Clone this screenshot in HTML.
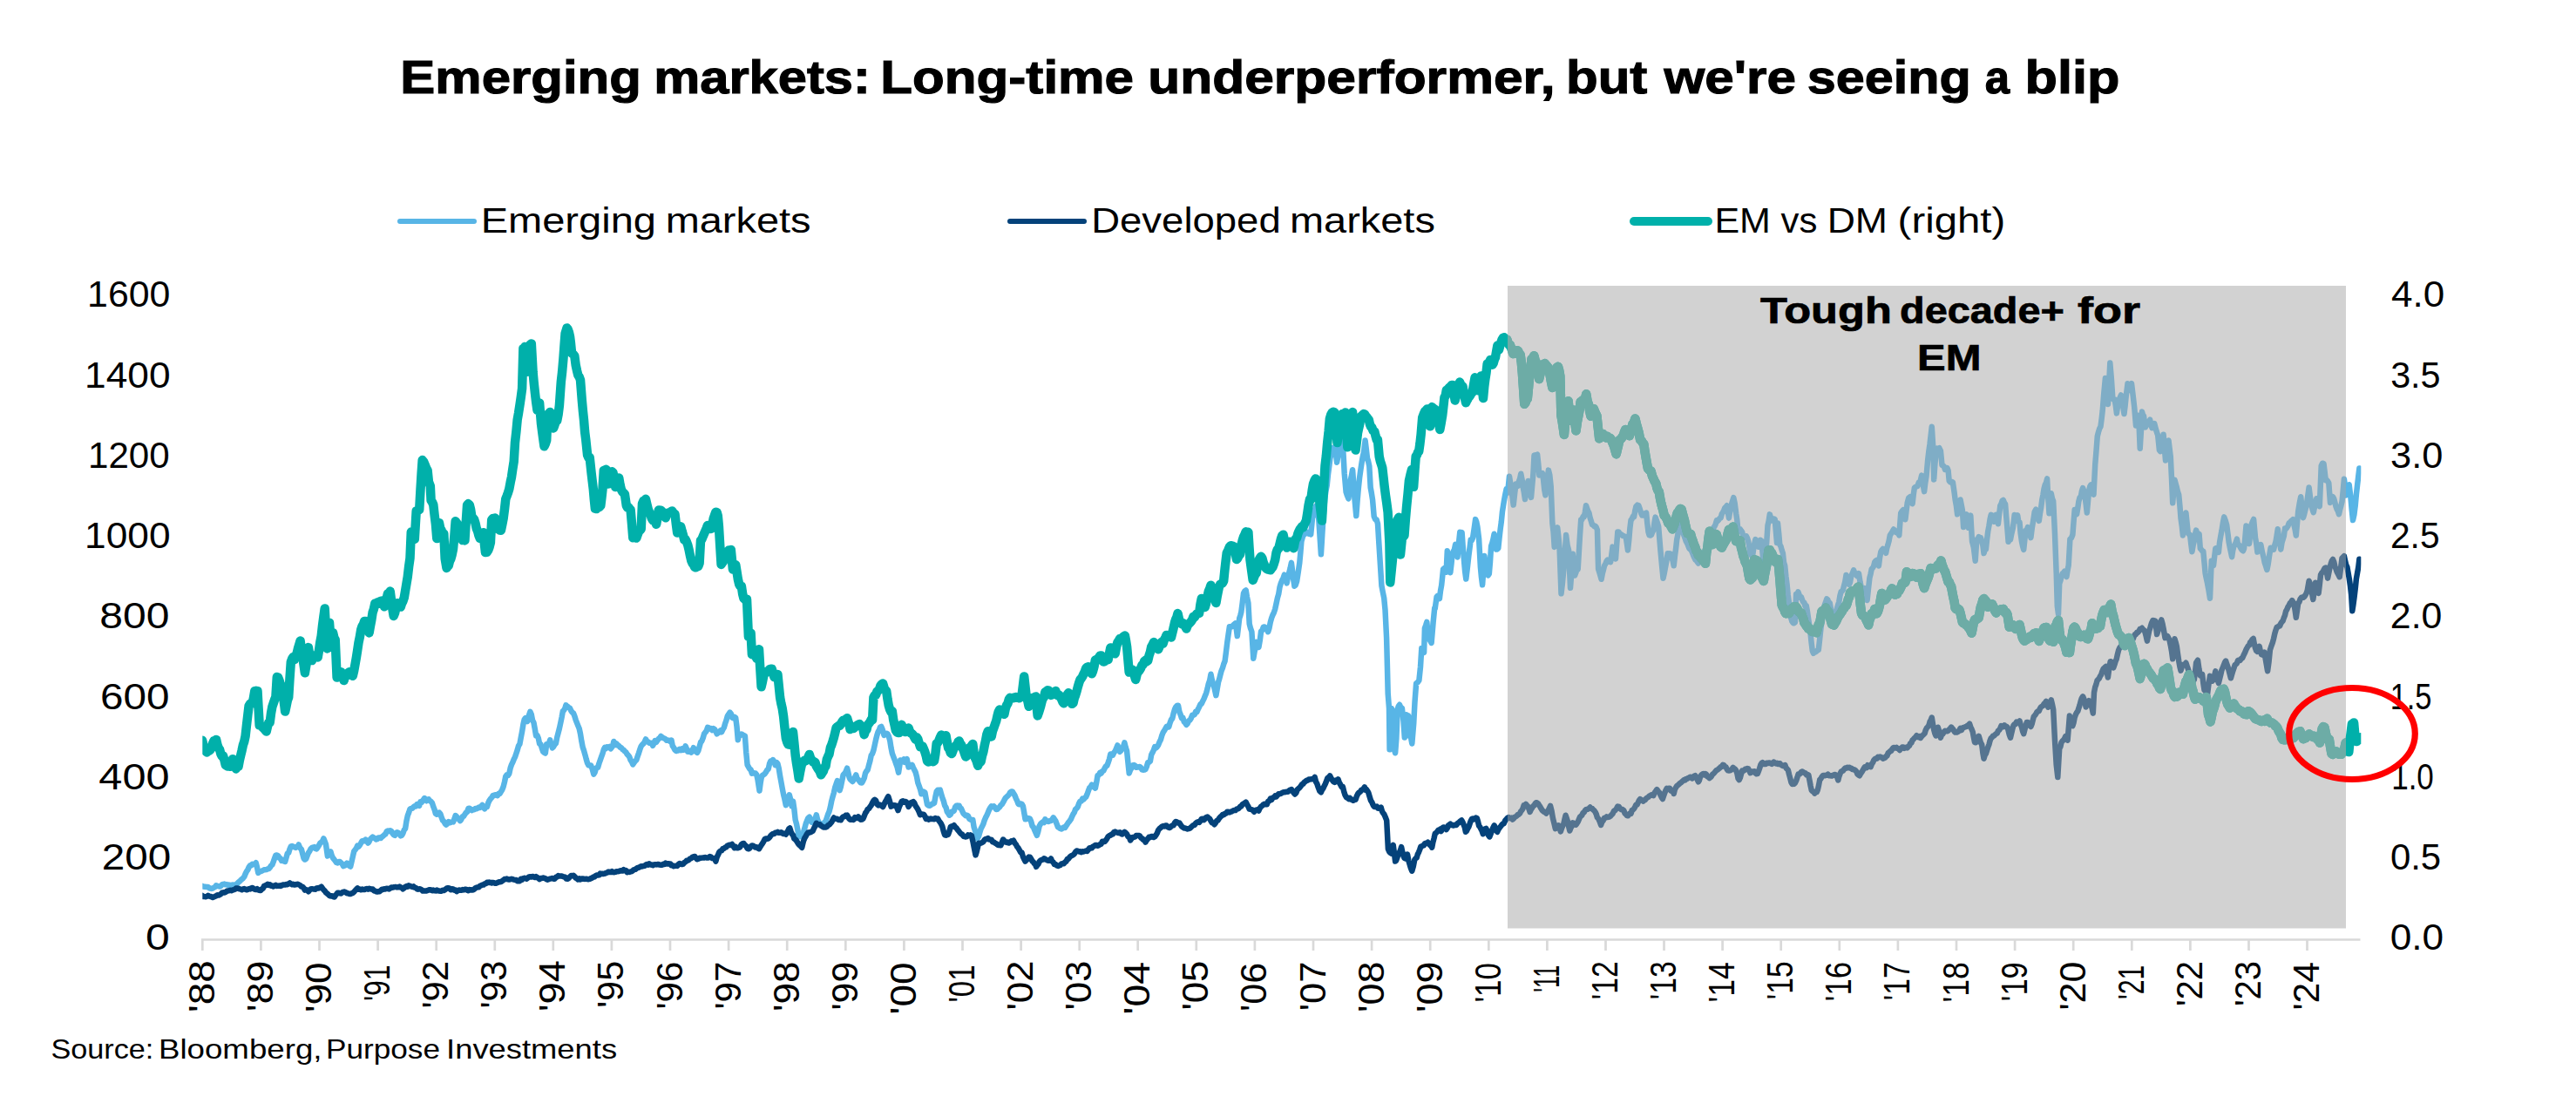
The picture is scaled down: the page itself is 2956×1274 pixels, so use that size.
<!DOCTYPE html>
<html><head><meta charset="utf-8"><title>Emerging markets: Long-time underperformer</title>
<style>
html,body{margin:0;padding:0;background:#fff;}
svg{display:block;font-family:"Liberation Sans",sans-serif;}
text{fill:#000;}
.ser path{fill:none;stroke-linejoin:round;stroke-linecap:round;}
</style></head><body>
<svg width="2956" height="1274" viewBox="0 0 2956 1274">
<rect width="2956" height="1274" fill="#fff"/>

<line x1="459" y1="254" x2="544" y2="254" stroke="#58B5E6" stroke-width="6" stroke-linecap="round"/>
<line x1="1159" y1="254" x2="1244" y2="254" stroke="#04427A" stroke-width="6" stroke-linecap="round"/>
<line x1="1875" y1="254" x2="1960" y2="254" stroke="#00B0AA" stroke-width="10" stroke-linecap="round"/>
<g stroke="#D9D9D9" stroke-width="2.7" fill="none">
<line x1="231.0" y1="1078.5" x2="2708.5" y2="1078.5"/>
<line x1="232.3" y1="1078.5" x2="232.3" y2="1091.0"/><line x1="299.4" y1="1078.5" x2="299.4" y2="1091.0"/><line x1="366.5" y1="1078.5" x2="366.5" y2="1091.0"/><line x1="433.6" y1="1078.5" x2="433.6" y2="1091.0"/><line x1="500.7" y1="1078.5" x2="500.7" y2="1091.0"/><line x1="567.8" y1="1078.5" x2="567.8" y2="1091.0"/><line x1="634.8" y1="1078.5" x2="634.8" y2="1091.0"/><line x1="701.9" y1="1078.5" x2="701.9" y2="1091.0"/><line x1="769.0" y1="1078.5" x2="769.0" y2="1091.0"/><line x1="836.1" y1="1078.5" x2="836.1" y2="1091.0"/><line x1="903.2" y1="1078.5" x2="903.2" y2="1091.0"/><line x1="970.3" y1="1078.5" x2="970.3" y2="1091.0"/><line x1="1037.4" y1="1078.5" x2="1037.4" y2="1091.0"/><line x1="1104.5" y1="1078.5" x2="1104.5" y2="1091.0"/><line x1="1171.6" y1="1078.5" x2="1171.6" y2="1091.0"/><line x1="1238.7" y1="1078.5" x2="1238.7" y2="1091.0"/><line x1="1305.7" y1="1078.5" x2="1305.7" y2="1091.0"/><line x1="1372.8" y1="1078.5" x2="1372.8" y2="1091.0"/><line x1="1439.9" y1="1078.5" x2="1439.9" y2="1091.0"/><line x1="1507.0" y1="1078.5" x2="1507.0" y2="1091.0"/><line x1="1574.1" y1="1078.5" x2="1574.1" y2="1091.0"/><line x1="1641.2" y1="1078.5" x2="1641.2" y2="1091.0"/><line x1="1708.3" y1="1078.5" x2="1708.3" y2="1091.0"/><line x1="1775.4" y1="1078.5" x2="1775.4" y2="1091.0"/><line x1="1842.5" y1="1078.5" x2="1842.5" y2="1091.0"/><line x1="1909.5" y1="1078.5" x2="1909.5" y2="1091.0"/><line x1="1976.6" y1="1078.5" x2="1976.6" y2="1091.0"/><line x1="2043.7" y1="1078.5" x2="2043.7" y2="1091.0"/><line x1="2110.8" y1="1078.5" x2="2110.8" y2="1091.0"/><line x1="2177.9" y1="1078.5" x2="2177.9" y2="1091.0"/><line x1="2245.0" y1="1078.5" x2="2245.0" y2="1091.0"/><line x1="2312.1" y1="1078.5" x2="2312.1" y2="1091.0"/><line x1="2379.2" y1="1078.5" x2="2379.2" y2="1091.0"/><line x1="2446.3" y1="1078.5" x2="2446.3" y2="1091.0"/><line x1="2513.4" y1="1078.5" x2="2513.4" y2="1091.0"/><line x1="2580.5" y1="1078.5" x2="2580.5" y2="1091.0"/><line x1="2647.5" y1="1078.5" x2="2647.5" y2="1091.0"/>
</g>
<defs><clipPath id="bx"><rect x="1730" y="328" width="962" height="737.5"/></clipPath>
<path id="tl" d="M232.1,849.7 L233.4,855.4 L234.7,860.5 L236.1,862.3 L237.4,863.3 L238.8,862.2 L240.1,861.7 L241.4,860.7 L242.8,857.6 L244.1,853.3 L245.4,850.3 L246.8,850.1 L248.1,848.9 L249.5,855.0 L250.8,858.6 L252.1,860.4 L253.5,865.6 L254.8,868.1 L256.2,867.9 L257.5,872.6 L258.8,878.1 L260.2,879.1 L261.5,879.6 L262.9,879.6 L264.2,879.8 L265.5,875.2 L266.9,871.3 L268.2,872.8 L269.6,877.3 L270.9,882.4 L272.2,879.6 L273.6,879.6 L274.9,872.5 L276.3,866.6 L277.6,861.2 L278.9,855.2 L280.3,851.0 L281.6,844.9 L283.0,832.1 L284.3,821.0 L285.6,810.1 L287.0,808.0 L288.3,807.0 L289.6,807.5 L291.0,800.8 L292.3,793.1 L293.9,792.8 L295.5,793.1 L296.6,813.0 L297.7,832.4 L299.0,832.7 L300.4,833.5 L301.7,835.2 L303.0,836.4 L304.4,838.0 L305.7,839.5 L307.1,833.6 L308.4,829.2 L309.7,829.1 L311.1,818.2 L312.4,811.1 L313.8,807.0 L315.1,803.1 L316.4,800.1 L317.8,777.0 L319.1,777.6 L320.5,781.0 L321.6,784.4 L322.8,787.4 L323.9,792.7 L325.5,802.8 L327.2,816.6 L328.5,810.6 L329.8,804.1 L331.2,800.2 L332.5,778.9 L333.8,759.9 L335.2,756.1 L336.5,754.0 L337.9,757.0 L339.2,752.3 L340.5,750.5 L341.9,744.6 L343.2,740.2 L344.6,735.5 L345.9,745.1 L347.2,753.0 L348.6,763.2 L349.9,772.3 L351.3,763.8 L352.6,755.2 L353.9,743.1 L355.3,752.4 L356.6,756.4 L358.0,758.1 L359.3,753.6 L360.6,752.8 L362.0,752.3 L363.3,753.0 L364.7,754.4 L366.0,746.7 L367.3,737.2 L368.7,730.1 L370.0,718.3 L371.4,707.6 L372.7,698.5 L374.0,722.8 L375.4,744.4 L376.7,729.6 L378.0,714.7 L379.1,729.0 L380.2,742.7 L382.1,726.3 L383.4,731.9 L384.7,734.3 L386.6,777.6 L387.8,777.4 L389.0,775.6 L390.2,772.5 L391.4,771.3 L393.1,773.9 L394.7,781.1 L395.9,775.9 L397.1,776.1 L398.3,773.5 L399.5,772.3 L400.8,771.4 L402.2,772.7 L403.5,773.0 L404.8,775.8 L406.2,769.8 L407.5,762.6 L408.9,754.7 L410.2,746.3 L411.5,737.5 L412.9,730.9 L414.2,723.0 L415.6,718.7 L416.9,716.8 L418.2,713.0 L419.6,713.0 L420.9,716.7 L422.3,722.6 L423.6,726.4 L424.9,718.9 L426.3,711.5 L427.6,703.0 L428.9,699.1 L430.3,692.6 L431.6,692.3 L433.0,691.5 L434.3,692.9 L435.6,690.4 L437.0,689.9 L438.3,689.6 L439.7,692.6 L441.0,696.3 L442.3,691.0 L443.7,686.6 L445.0,681.1 L446.4,682.0 L447.7,678.6 L448.8,687.1 L449.8,695.1 L451.7,707.0 L453.1,703.5 L454.4,697.7 L455.7,692.2 L457.1,694.5 L458.4,694.9 L459.8,696.6 L461.1,692.5 L462.4,690.0 L463.8,685.9 L465.1,678.0 L466.5,669.7 L467.8,661.9 L469.1,650.6 L470.5,640.7 L471.8,610.5 L473.1,612.5 L474.5,614.6 L475.8,618.7 L477.7,586.6 L478.9,586.5 L480.0,585.7 L481.2,585.1 L482.5,561.9 L483.6,543.9 L484.7,528.1 L486.3,530.2 L487.9,534.0 L489.2,537.4 L490.6,539.8 L491.9,552.8 L493.8,557.8 L494.6,574.2 L495.9,576.1 L497.3,579.4 L498.6,591.0 L499.9,601.4 L501.3,618.1 L502.6,610.0 L504.0,600.2 L505.3,606.7 L506.6,608.7 L508.0,612.5 L509.3,612.5 L510.7,641.4 L512.5,651.9 L513.7,650.0 L514.8,649.0 L516.0,644.0 L517.3,641.5 L518.7,636.5 L520.0,630.1 L521.4,614.8 L522.7,598.2 L524.0,600.1 L525.4,602.0 L526.7,605.0 L528.1,607.9 L529.4,613.8 L530.7,620.0 L532.1,619.4 L533.4,620.4 L534.8,598.5 L536.1,579.4 L537.4,578.3 L538.8,579.6 L540.1,584.8 L541.5,594.1 L542.8,594.6 L544.1,596.0 L545.5,600.5 L546.8,606.6 L548.2,610.0 L549.5,614.8 L550.8,618.0 L552.2,616.4 L553.5,613.2 L554.9,611.3 L555.9,624.3 L557.0,634.1 L558.6,633.9 L560.2,631.6 L561.5,628.2 L562.9,622.8 L564.2,596.8 L565.6,595.0 L566.9,595.0 L568.2,594.6 L569.6,601.6 L570.9,606.9 L572.3,607.5 L573.6,608.5 L574.9,608.7 L576.3,601.9 L577.6,595.2 L579.0,584.5 L580.3,572.6 L581.6,569.3 L583.0,565.5 L584.3,561.2 L585.7,553.7 L587.0,547.6 L588.3,538.5 L589.7,529.6 L591.0,507.9 L592.4,495.3 L593.7,481.6 L595.0,474.3 L596.4,465.2 L597.7,456.5 L599.1,446.0 L600.4,400.0 L601.5,399.5 L602.5,397.9 L603.7,412.8 L604.9,426.7 L606.0,411.7 L607.1,398.0 L608.4,395.7 L609.8,394.4 L611.6,427.2 L612.7,439.4 L613.8,449.7 L615.1,461.0 L616.5,470.8 L617.8,466.8 L619.1,462.5 L621.0,486.3 L622.1,494.8 L623.2,503.0 L624.5,512.3 L625.8,509.5 L627.2,505.3 L628.5,475.8 L629.9,474.4 L631.2,472.9 L632.5,480.0 L633.9,487.7 L635.2,491.4 L636.6,487.3 L637.9,483.6 L639.2,483.0 L640.6,475.8 L641.9,465.3 L643.8,438.4 L645.1,426.9 L646.5,410.8 L647.5,396.9 L648.6,382.7 L650.5,376.4 L651.6,377.8 L652.8,381.0 L654.0,386.2 L655.0,394.2 L656.1,405.5 L657.7,406.6 L659.3,408.4 L660.7,419.2 L662.0,425.2 L663.3,430.4 L664.7,432.6 L666.0,436.0 L667.9,460.4 L669.0,472.4 L670.0,481.9 L671.1,495.5 L672.2,504.1 L674.1,522.4 L675.4,525.2 L676.7,525.0 L678.6,542.9 L679.7,552.1 L680.8,561.4 L681.8,573.1 L682.9,583.7 L684.5,584.1 L686.1,578.7 L687.7,582.0 L689.3,580.4 L690.4,571.4 L691.5,561.5 L692.8,539.9 L694.1,539.5 L695.5,538.7 L696.8,546.9 L698.2,555.4 L699.5,546.5 L700.8,542.0 L702.2,541.3 L703.5,542.4 L704.9,550.0 L706.2,559.1 L707.5,555.5 L708.9,551.1 L710.2,548.4 L711.6,556.6 L712.9,561.9 L714.2,564.5 L715.6,565.8 L716.9,567.1 L718.8,580.2 L720.0,582.5 L721.2,582.2 L722.4,584.0 L723.6,585.0 L725.0,601.0 L726.3,617.3 L727.6,616.0 L729.0,616.9 L730.3,617.6 L731.7,613.5 L733.0,610.2 L734.3,608.8 L735.7,607.1 L737.0,578.1 L738.3,575.1 L739.7,575.2 L741.0,572.8 L742.4,578.9 L743.7,584.3 L745.0,587.7 L746.4,590.5 L747.7,594.6 L749.1,597.1 L750.4,597.0 L751.7,598.7 L753.1,601.8 L754.4,594.8 L755.8,585.5 L757.1,585.6 L758.4,585.8 L759.8,587.0 L761.1,589.3 L762.5,591.8 L763.8,594.3 L765.1,590.4 L766.5,588.7 L767.8,588.4 L769.0,588.4 L770.1,587.0 L771.3,586.6 L772.9,588.9 L774.5,590.0 L775.9,601.8 L777.2,611.6 L778.5,609.8 L779.9,607.7 L781.2,604.3 L782.6,609.6 L783.9,613.9 L785.2,619.6 L786.6,619.1 L787.9,622.0 L789.2,625.3 L790.6,630.9 L791.9,637.6 L793.3,643.4 L794.6,646.6 L795.9,648.1 L797.3,651.2 L798.6,651.3 L800.0,650.3 L801.3,649.9 L802.6,646.4 L804.0,620.4 L805.3,619.2 L806.7,615.6 L808.0,612.6 L809.3,609.6 L810.7,606.4 L812.0,602.9 L813.4,603.6 L814.7,603.2 L816.0,606.9 L817.4,602.3 L818.7,595.3 L820.1,591.2 L821.4,587.7 L822.7,588.2 L823.8,592.2 L824.9,604.1 L826.2,625.8 L827.6,647.9 L828.7,646.2 L829.8,644.9 L831.0,641.5 L832.1,640.6 L833.4,636.3 L834.8,633.3 L836.1,631.6 L837.5,631.6 L838.8,631.0 L839.9,642.3 L840.9,653.4 L842.6,650.5 L844.2,648.2 L845.5,656.0 L846.8,664.5 L848.2,670.7 L849.5,673.0 L850.9,673.0 L852.2,681.9 L853.5,686.9 L854.7,687.8 L855.9,689.3 L857.0,687.7 L858.9,730.4 L860.2,730.6 L861.6,726.8 L862.9,751.2 L864.5,750.5 L866.1,748.4 L867.2,752.6 L868.3,755.9 L869.6,751.4 L871.0,745.3 L872.3,767.4 L873.6,788.2 L875.0,782.2 L876.3,775.7 L877.6,771.2 L879.0,772.1 L880.3,771.4 L881.7,770.1 L883.0,768.3 L884.3,767.7 L885.7,767.8 L887.0,772.2 L888.4,777.2 L889.7,776.7 L891.0,775.3 L892.4,773.9 L893.7,786.8 L895.1,800.5 L896.4,807.6 L897.7,813.0 L899.1,822.2 L900.4,834.8 L901.8,847.0 L903.1,851.5 L904.4,854.4 L905.8,854.7 L907.2,850.0 L908.6,845.6 L910.0,840.1 L911.3,852.2 L912.7,866.7 L914.0,875.9 L915.4,884.4 L916.7,893.5 L918.0,886.5 L919.4,879.8 L920.7,874.5 L922.1,874.7 L923.4,872.6 L924.7,873.0 L926.1,871.4 L927.4,869.0 L928.8,865.9 L930.1,870.2 L931.4,872.0 L932.8,874.5 L934.1,874.1 L935.4,874.9 L936.8,879.3 L938.1,881.4 L939.5,883.6 L940.8,885.5 L942.1,889.3 L943.5,887.2 L944.8,885.2 L946.2,880.8 L947.5,879.5 L948.8,871.5 L950.2,868.2 L951.5,865.6 L952.9,858.1 L954.2,855.1 L955.5,851.1 L956.9,846.4 L958.2,841.2 L959.6,835.2 L960.9,834.1 L962.2,833.1 L963.6,833.0 L964.9,831.1 L966.3,828.5 L967.6,826.8 L968.7,827.1 L969.9,827.1 L971.0,825.1 L972.1,824.2 L973.3,828.4 L974.5,831.6 L975.6,837.1 L977.0,835.5 L978.3,836.0 L979.6,835.9 L981.0,834.6 L982.3,833.6 L983.7,832.4 L985.0,831.7 L986.3,831.1 L987.7,833.0 L989.0,833.3 L990.4,836.7 L991.7,843.2 L993.0,839.0 L994.4,837.5 L995.7,832.1 L997.1,830.4 L998.4,828.8 L999.7,826.1 L1001.1,826.3 L1002.4,800.7 L1003.8,797.9 L1005.1,797.7 L1006.4,793.6 L1007.8,792.7 L1009.1,790.9 L1010.5,786.8 L1011.8,785.4 L1013.1,784.4 L1014.5,789.1 L1015.8,791.9 L1017.2,793.2 L1018.5,802.4 L1019.8,809.8 L1021.2,814.5 L1022.5,817.1 L1023.8,816.2 L1025.2,826.3 L1026.5,831.8 L1027.9,838.3 L1029.2,840.2 L1030.5,841.0 L1031.9,841.0 L1033.2,838.3 L1034.6,831.8 L1035.9,835.0 L1037.2,838.2 L1038.6,840.1 L1039.9,839.2 L1041.3,838.0 L1042.6,835.6 L1043.9,839.2 L1045.3,841.6 L1046.6,842.2 L1048.0,843.8 L1049.3,846.3 L1050.6,848.6 L1052.0,846.2 L1053.3,848.3 L1054.7,853.0 L1056.0,857.1 L1057.3,857.0 L1058.7,856.5 L1060.0,859.5 L1061.4,863.2 L1062.7,867.4 L1064.0,873.5 L1065.4,874.5 L1066.7,874.2 L1068.0,871.2 L1069.4,873.2 L1070.7,874.2 L1072.1,873.2 L1073.4,865.3 L1074.7,853.4 L1076.1,852.3 L1077.4,850.0 L1078.8,846.4 L1080.1,843.6 L1081.4,846.2 L1082.8,845.6 L1084.1,846.1 L1085.5,844.2 L1086.8,851.9 L1088.1,858.3 L1089.5,860.1 L1090.8,864.1 L1092.2,865.0 L1093.5,861.7 L1094.8,858.1 L1096.2,857.4 L1097.3,855.3 L1098.5,854.9 L1099.6,851.4 L1100.7,850.5 L1101.9,853.4 L1103.1,854.8 L1104.2,857.7 L1105.6,861.0 L1106.9,865.0 L1108.2,868.5 L1109.6,867.5 L1110.9,862.1 L1112.3,858.2 L1113.6,858.9 L1114.9,855.8 L1116.3,853.9 L1117.6,864.0 L1118.9,869.7 L1120.6,873.4 L1122.2,878.8 L1123.3,875.5 L1124.5,874.9 L1125.6,874.3 L1127.0,867.5 L1128.3,863.3 L1129.7,855.9 L1131.0,850.1 L1132.3,843.1 L1133.7,839.3 L1135.0,840.6 L1136.4,841.8 L1137.7,845.4 L1139.0,839.0 L1140.4,835.4 L1141.7,831.6 L1143.1,827.8 L1144.4,822.1 L1145.7,817.1 L1147.1,814.4 L1148.4,816.0 L1149.8,815.1 L1151.1,817.0 L1152.4,819.8 L1153.8,813.2 L1155.1,809.5 L1156.5,807.4 L1157.8,802.5 L1159.1,800.9 L1160.5,801.4 L1161.8,801.1 L1163.1,801.2 L1164.5,800.6 L1165.8,800.0 L1167.2,800.8 L1168.5,800.4 L1169.8,801.2 L1171.2,800.1 L1172.5,798.5 L1173.9,787.1 L1175.2,776.4 L1176.5,788.1 L1177.9,801.1 L1179.2,804.0 L1180.6,810.8 L1181.9,807.6 L1183.2,805.1 L1184.6,800.9 L1185.9,801.8 L1187.3,800.1 L1188.6,799.4 L1189.7,811.8 L1190.7,821.4 L1192.3,816.7 L1194.0,811.2 L1195.3,805.9 L1196.6,801.6 L1198.0,800.1 L1199.3,794.4 L1200.7,793.6 L1202.0,792.2 L1203.3,792.6 L1204.7,794.1 L1206.0,797.9 L1207.3,797.4 L1208.7,795.2 L1210.0,795.2 L1211.4,793.0 L1212.7,797.3 L1214.0,798.5 L1215.4,797.9 L1216.7,799.1 L1218.1,802.4 L1219.4,805.6 L1220.7,807.3 L1222.1,803.5 L1223.4,801.0 L1224.8,797.1 L1226.1,795.3 L1227.4,800.7 L1228.8,804.8 L1230.1,807.8 L1231.5,807.2 L1232.8,801.3 L1234.1,798.0 L1235.5,793.5 L1236.8,788.5 L1238.2,783.7 L1239.5,780.0 L1240.8,778.7 L1242.2,776.3 L1243.5,773.7 L1244.9,770.6 L1246.2,767.0 L1247.5,765.7 L1248.9,765.3 L1250.2,765.6 L1251.5,771.7 L1252.9,773.3 L1254.2,770.0 L1255.6,764.6 L1256.9,757.5 L1258.2,758.3 L1259.6,756.1 L1260.9,755.0 L1262.3,752.4 L1263.6,752.5 L1264.9,757.1 L1266.3,759.5 L1267.6,759.0 L1269.0,756.0 L1270.3,755.8 L1271.6,757.2 L1273.0,749.9 L1274.3,743.5 L1275.7,743.7 L1277.0,745.4 L1278.3,747.4 L1279.7,750.2 L1281.0,742.6 L1282.4,737.2 L1283.7,735.6 L1285.0,733.0 L1286.4,733.1 L1287.7,732.0 L1289.3,730.5 L1290.9,729.6 L1292.0,735.2 L1293.1,742.3 L1294.4,757.1 L1295.7,771.6 L1297.1,768.8 L1298.4,768.4 L1299.8,768.8 L1300.9,772.0 L1302.1,776.2 L1303.2,780.0 L1304.9,772.9 L1306.5,770.7 L1307.8,769.1 L1309.1,766.9 L1310.5,763.3 L1311.8,762.7 L1313.2,758.8 L1314.5,757.8 L1315.8,759.2 L1317.2,758.2 L1318.5,752.7 L1319.9,748.5 L1321.2,742.3 L1322.5,740.1 L1323.9,737.1 L1325.2,739.9 L1326.6,740.1 L1327.9,743.0 L1329.2,745.3 L1330.6,741.9 L1331.9,738.0 L1333.3,736.6 L1334.6,738.8 L1335.9,734.5 L1337.3,731.9 L1338.6,728.9 L1339.9,730.6 L1341.3,730.3 L1342.6,730.3 L1344.0,731.5 L1345.3,726.3 L1346.6,721.0 L1348.0,714.5 L1349.1,711.0 L1350.3,708.5 L1351.5,704.0 L1353.1,711.2 L1354.7,713.8 L1356.0,716.2 L1357.4,715.1 L1358.7,717.4 L1360.0,718.6 L1361.4,721.5 L1362.7,718.2 L1364.1,716.0 L1365.4,714.9 L1366.7,713.5 L1368.1,711.4 L1369.4,707.7 L1370.8,708.5 L1372.1,706.2 L1373.4,704.5 L1374.8,704.2 L1376.1,703.9 L1377.5,693.5 L1378.8,686.9 L1380.1,691.5 L1381.5,694.3 L1382.8,696.9 L1384.1,692.3 L1385.5,684.8 L1386.8,678.8 L1388.2,675.5 L1389.5,671.7 L1390.8,676.3 L1392.2,680.4 L1393.8,686.6 L1395.4,692.0 L1396.6,685.1 L1397.7,679.4 L1398.9,673.6 L1400.2,670.7 L1401.6,670.0 L1402.9,669.3 L1404.2,666.6 L1405.4,654.4 L1406.6,643.8 L1407.7,634.9 L1409.3,631.6 L1410.9,627.7 L1412.3,626.3 L1413.6,626.5 L1415.0,626.9 L1416.3,627.5 L1417.6,634.2 L1419.0,642.0 L1420.3,640.7 L1421.7,637.5 L1423.0,636.2 L1424.3,626.5 L1425.7,620.4 L1427.0,616.2 L1428.3,613.8 L1429.7,610.3 L1431.0,611.1 L1432.4,610.8 L1433.4,626.9 L1434.5,642.6 L1436.1,654.4 L1437.7,665.9 L1439.1,662.5 L1440.4,659.2 L1441.7,657.7 L1443.1,648.7 L1444.4,643.2 L1445.8,640.5 L1447.1,638.8 L1448.4,640.7 L1449.8,645.8 L1451.1,648.9 L1452.5,651.9 L1453.8,653.1 L1455.1,653.6 L1456.5,653.9 L1457.8,654.3 L1459.2,652.4 L1460.5,650.7 L1461.8,647.1 L1463.2,642.7 L1464.5,634.6 L1465.9,630.6 L1467.2,629.7 L1468.5,624.5 L1469.9,618.7 L1471.2,614.8 L1472.6,613.7 L1473.9,620.0 L1475.2,623.9 L1476.6,628.6 L1477.7,626.9 L1478.9,622.6 L1480.0,621.7 L1481.5,623.7 L1483.0,627.6 L1484.5,629.2 L1485.7,622.7 L1486.9,618.1 L1488.1,617.5 L1489.3,612.8 L1490.5,609.8 L1491.7,607.4 L1492.9,606.0 L1494.1,604.2 L1495.3,605.5 L1496.5,602.3 L1497.7,600.1 L1498.9,597.6 L1500.3,588.7 L1501.6,579.8 L1503.0,573.2 L1504.3,573.3 L1505.7,562.9 L1507.0,555.3 L1508.4,551.7 L1509.7,549.4 L1511.1,553.4 L1512.4,551.2 L1513.5,566.3 L1514.6,579.4 L1515.8,588.9 L1516.9,597.6 L1518.7,566.5 L1520.5,534.6 L1521.9,522.9 L1523.2,508.0 L1524.6,495.3 L1525.9,480.5 L1527.3,475.9 L1528.7,473.5 L1529.9,472.8 L1531.0,472.9 L1532.2,474.7 L1533.4,490.6 L1534.5,508.1 L1535.7,499.1 L1536.9,490.6 L1538.1,485.6 L1539.2,481.5 L1540.4,475.0 L1541.6,475.3 L1542.7,475.2 L1543.9,473.4 L1545.1,493.8 L1546.3,513.2 L1547.4,498.6 L1548.6,481.3 L1549.8,478.2 L1550.9,477.3 L1552.1,473.1 L1553.3,487.3 L1554.4,502.9 L1555.6,516.5 L1556.8,507.2 L1558.0,497.0 L1559.1,491.7 L1560.3,486.6 L1561.5,478.3 L1562.6,477.2 L1563.8,476.1 L1565.0,475.1 L1566.2,475.6 L1567.3,478.6 L1568.5,478.8 L1569.7,480.7 L1570.8,482.0 L1572.0,487.1 L1573.2,489.9 L1574.4,490.8 L1575.5,494.2 L1576.7,494.9 L1577.3,495.3 L1578.5,500.3 L1579.7,504.5 L1580.9,504.4 L1582.7,524.0 L1583.9,529.4 L1585.1,533.0 L1586.3,537.0 L1587.5,547.5 L1588.7,558.5 L1589.9,567.8 L1591.3,577.8 L1592.6,587.8 L1594.4,623.5 L1595.3,668.5 L1596.7,654.7 L1598.0,641.8 L1599.4,627.9 L1600.7,614.7 L1602.1,605.2 L1603.4,597.0 L1605.2,593.8 L1607.0,636.6 L1608.8,618.6 L1610.2,615.8 L1611.5,614.7 L1612.9,595.6 L1614.2,580.5 L1615.6,566.5 L1616.9,552.0 L1618.5,544.9 L1620.0,539.0 L1621.1,548.1 L1622.1,558.8 L1623.4,540.7 L1624.7,523.9 L1625.9,522.2 L1627.0,519.2 L1628.2,518.1 L1629.4,509.5 L1630.6,498.9 L1632.2,479.4 L1633.7,475.3 L1635.2,472.1 L1636.4,471.1 L1637.6,469.6 L1638.8,469.5 L1639.9,479.0 L1641.1,489.3 L1642.3,477.5 L1643.4,467.1 L1644.6,468.7 L1645.8,469.3 L1647.0,470.0 L1648.1,473.6 L1649.3,477.7 L1650.8,484.1 L1652.3,492.9 L1653.7,485.5 L1655.2,476.6 L1656.3,467.1 L1657.5,456.1 L1658.7,454.4 L1659.8,447.8 L1661.0,448.1 L1662.2,445.7 L1663.3,444.5 L1664.5,444.2 L1665.7,442.0 L1666.9,442.0 L1668.3,451.3 L1669.7,459.5 L1671.2,452.0 L1672.7,443.4 L1673.9,440.9 L1675.1,438.6 L1676.2,441.6 L1677.4,442.5 L1678.6,443.6 L1679.7,451.5 L1680.9,456.8 L1682.1,462.2 L1683.3,459.6 L1684.4,457.9 L1685.6,454.8 L1686.8,454.6 L1687.9,451.9 L1689.1,450.9 L1690.3,445.9 L1691.5,439.3 L1692.6,433.3 L1693.8,438.4 L1695.0,442.1 L1696.1,448.2 L1697.3,444.6 L1698.5,439.3 L1699.6,431.5 L1700.8,444.5 L1702.0,456.9 L1703.2,444.2 L1704.3,435.4 L1705.5,427.9 L1706.7,417.4 L1707.8,416.9 L1709.0,416.5 L1710.2,412.9 L1711.4,415.8 L1712.5,418.7 L1713.7,416.7 L1714.9,412.5 L1716.0,410.2 L1717.2,403.0 L1718.4,396.5 L1720.0,401.7 L1721.2,397.2 L1722.3,393.4 L1723.5,389.9 L1724.7,387.9 L1725.9,387.2 L1727.0,390.7 L1728.2,389.8 L1729.4,389.9 L1730.5,393.6 L1731.7,396.1 L1732.9,396.0 L1734.1,399.5 L1735.2,402.5 L1736.4,406.1 L1737.6,405.7 L1738.7,405.3 L1739.9,404.8 L1741.1,402.3 L1742.2,403.0 L1743.4,406.3 L1744.6,407.0 L1745.8,415.9 L1746.9,428.2 L1748.1,445.8 L1749.3,463.7 L1750.4,462.3 L1751.6,459.2 L1752.8,457.6 L1754.0,445.1 L1755.1,432.1 L1756.3,423.8 L1757.5,412.1 L1758.9,413.3 L1760.3,408.2 L1761.8,414.3 L1763.3,416.8 L1764.7,426.6 L1766.1,435.0 L1767.7,428.1 L1769.2,421.3 L1770.4,419.5 L1771.5,417.9 L1772.7,417.2 L1773.9,418.6 L1775.0,419.9 L1776.2,421.3 L1777.4,423.0 L1778.7,430.8 L1780.0,438.1 L1781.4,444.9 L1782.9,437.2 L1784.4,428.2 L1785.6,426.1 L1786.7,421.6 L1787.9,420.8 L1789.1,425.0 L1790.3,431.6 L1791.4,476.6 L1792.6,483.2 L1793.8,491.3 L1794.9,498.9 L1796.1,484.2 L1797.3,464.8 L1798.5,463.9 L1799.6,460.3 L1800.8,473.0 L1802.0,482.7 L1803.1,480.7 L1804.3,476.0 L1805.5,470.7 L1807.0,482.6 L1808.5,494.3 L1809.9,484.3 L1811.3,477.3 L1812.5,470.5 L1813.7,461.2 L1814.8,461.5 L1816.0,459.4 L1817.2,458.9 L1818.7,459.3 L1820.2,452.3 L1821.6,460.7 L1823.0,464.2 L1824.2,471.9 L1825.4,477.5 L1826.6,475.3 L1827.7,471.5 L1828.9,469.2 L1830.1,472.5 L1831.2,474.8 L1832.4,477.3 L1833.8,490.8 L1835.2,503.3 L1836.6,500.6 L1838.0,498.1 L1839.4,497.9 L1840.6,500.3 L1841.8,500.5 L1843.0,502.4 L1844.1,500.7 L1845.3,501.9 L1846.5,502.4 L1847.6,502.7 L1848.8,504.3 L1850.0,507.2 L1851.1,509.8 L1852.3,512.8 L1853.5,517.2 L1854.7,521.2 L1855.8,516.3 L1857.0,511.5 L1858.2,505.2 L1859.3,504.6 L1860.5,503.4 L1861.7,501.3 L1862.9,500.0 L1864.0,495.8 L1865.2,493.1 L1866.4,493.7 L1867.5,496.0 L1868.7,497.4 L1869.9,500.2 L1871.1,495.6 L1872.2,491.8 L1873.4,486.9 L1874.9,485.1 L1876.4,480.4 L1877.8,486.5 L1879.3,491.7 L1880.7,496.8 L1882.1,504.7 L1883.5,505.7 L1884.9,508.1 L1886.3,509.7 L1887.4,517.4 L1888.6,524.7 L1889.8,531.5 L1891.0,537.9 L1892.1,538.9 L1893.3,540.2 L1894.5,540.6 L1896.0,546.5 L1897.5,549.6 L1898.9,552.8 L1900.3,555.1 L1901.5,560.2 L1902.7,563.2 L1903.8,564.5 L1905.0,571.9 L1906.2,577.7 L1907.4,582.3 L1908.5,586.1 L1909.7,591.5 L1910.9,592.9 L1912.0,594.5 L1913.2,597.0 L1914.4,600.5 L1915.6,601.2 L1916.7,602.9 L1917.9,604.8 L1919.1,607.2 L1920.2,604.4 L1921.4,601.5 L1922.6,596.8 L1923.7,592.7 L1924.9,588.5 L1926.1,587.5 L1927.3,585.2 L1928.4,583.9 L1929.6,584.8 L1930.8,589.5 L1931.9,593.5 L1933.1,597.7 L1934.3,603.8 L1935.5,608.6 L1936.6,612.2 L1937.8,612.3 L1939.0,613.8 L1940.1,613.0 L1941.3,617.6 L1942.5,620.5 L1943.8,624.7 L1945.2,627.7 L1946.5,632.5 L1947.7,633.3 L1948.8,637.1 L1950.0,637.9 L1951.2,639.4 L1952.3,640.9 L1953.5,642.0 L1954.7,643.9 L1955.9,645.0 L1957.0,646.8 L1958.2,634.5 L1959.4,628.2 L1960.5,617.9 L1961.7,609.8 L1962.9,614.4 L1964.1,619.2 L1965.2,625.1 L1966.4,621.0 L1967.6,615.8 L1968.7,612.9 L1969.9,613.7 L1971.1,618.5 L1972.2,620.4 L1973.4,624.8 L1974.6,627.6 L1975.8,628.5 L1976.9,626.2 L1978.1,624.1 L1979.3,621.9 L1980.4,620.4 L1981.6,617.3 L1982.8,612.0 L1984.0,607.8 L1985.1,610.1 L1986.3,608.6 L1987.5,606.9 L1988.6,604.6 L1989.8,611.3 L1991.0,616.8 L1992.2,621.3 L1993.3,620.2 L1994.5,621.7 L1995.7,622.1 L1996.8,620.4 L1998.0,628.5 L1999.2,632.7 L2000.4,638.1 L2001.5,640.7 L2002.7,645.1 L2003.9,647.3 L2005.0,649.9 L2006.2,657.4 L2007.4,663.7 L2008.5,665.5 L2009.7,664.1 L2010.9,663.4 L2012.1,652.3 L2013.2,642.3 L2014.4,642.7 L2015.6,643.1 L2016.7,644.1 L2017.9,652.1 L2019.1,658.2 L2020.3,660.3 L2021.4,662.4 L2022.6,664.2 L2023.8,667.0 L2024.9,659.9 L2026.1,654.2 L2027.3,648.0 L2028.5,639.0 L2029.6,631.5 L2030.8,631.2 L2032.0,634.9 L2033.1,634.8 L2034.3,637.6 L2035.5,640.6 L2036.7,644.5 L2037.8,643.9 L2038.9,641.7 L2040.0,642.0 L2041.2,651.4 L2042.3,663.7 L2043.5,679.3 L2044.7,694.4 L2045.9,697.1 L2047.0,698.3 L2048.2,702.3 L2049.4,704.2 L2050.5,703.0 L2051.7,702.7 L2052.9,704.1 L2054.1,701.9 L2055.2,700.0 L2056.4,698.3 L2057.6,698.3 L2058.7,696.3 L2059.9,696.4 L2061.1,696.5 L2062.2,697.9 L2063.4,701.2 L2064.6,702.5 L2065.8,703.6 L2066.9,703.5 L2068.1,707.4 L2069.3,710.1 L2070.4,714.8 L2071.6,716.0 L2072.8,718.6 L2074.0,718.8 L2075.1,721.6 L2076.3,721.2 L2077.5,722.0 L2078.6,724.3 L2079.8,724.8 L2081.0,722.9 L2082.2,725.3 L2083.3,724.3 L2084.5,726.2 L2085.7,721.5 L2086.8,716.9 L2088.0,715.9 L2089.2,709.4 L2090.4,702.1 L2091.5,700.9 L2092.7,702.1 L2093.9,700.9 L2095.0,697.6 L2096.2,701.5 L2097.4,701.1 L2098.5,702.7 L2099.7,707.5 L2100.9,712.3 L2102.1,716.5 L2103.2,717.0 L2104.4,717.5 L2105.6,715.2 L2106.7,713.9 L2107.9,711.3 L2109.1,708.4 L2110.3,706.7 L2111.4,705.4 L2112.6,703.4 L2113.8,701.6 L2114.9,699.0 L2116.1,698.2 L2117.3,695.6 L2118.5,695.3 L2119.6,692.5 L2120.8,688.0 L2122.0,685.3 L2123.1,680.2 L2124.3,679.4 L2125.5,678.2 L2126.7,678.3 L2127.8,678.2 L2129.0,679.0 L2130.2,677.1 L2131.3,674.7 L2132.5,673.5 L2133.7,683.2 L2134.8,693.7 L2136.0,703.7 L2137.2,706.2 L2138.4,706.5 L2139.5,707.3 L2140.7,709.7 L2141.9,712.4 L2143.0,714.3 L2144.2,717.3 L2145.4,711.4 L2146.6,708.6 L2147.7,704.2 L2148.9,705.6 L2150.1,702.9 L2151.2,699.1 L2152.4,702.4 L2153.6,704.2 L2154.8,702.0 L2155.9,698.7 L2157.1,693.7 L2158.3,686.3 L2159.4,680.9 L2160.6,685.5 L2161.8,684.7 L2163.0,688.6 L2164.1,687.3 L2165.3,685.5 L2166.5,683.5 L2167.6,681.6 L2168.8,681.2 L2170.0,677.2 L2171.1,675.5 L2172.3,677.0 L2173.5,679.8 L2174.7,682.6 L2175.8,680.8 L2177.0,681.7 L2178.2,677.2 L2179.3,678.1 L2180.5,675.8 L2181.7,673.2 L2182.9,669.4 L2184.0,669.4 L2185.2,669.3 L2186.4,668.3 L2188.0,656.2 L2189.4,659.0 L2190.8,659.9 L2192.2,662.0 L2193.4,660.3 L2194.6,658.0 L2195.7,658.3 L2196.9,659.5 L2198.1,659.9 L2199.3,662.6 L2200.4,659.1 L2201.6,659.7 L2202.8,658.9 L2203.9,658.2 L2205.3,664.4 L2206.7,670.7 L2208.1,675.0 L2209.5,670.7 L2210.8,667.3 L2212.1,664.4 L2213.3,661.0 L2214.5,656.3 L2215.6,652.1 L2216.8,654.1 L2218.0,653.0 L2219.2,652.9 L2220.3,652.4 L2221.5,652.5 L2222.7,650.1 L2223.8,648.5 L2225.0,648.5 L2226.2,646.2 L2227.4,643.5 L2228.5,648.0 L2229.7,650.9 L2230.9,654.4 L2232.0,655.9 L2233.2,659.8 L2234.4,664.0 L2235.6,667.9 L2236.7,668.0 L2237.9,671.1 L2239.1,673.2 L2240.2,679.3 L2241.4,685.5 L2242.6,690.5 L2243.7,697.9 L2244.9,699.3 L2246.1,699.3 L2247.3,698.9 L2248.4,700.0 L2249.6,703.9 L2250.8,709.1 L2251.9,714.0 L2253.1,715.4 L2254.3,715.6 L2255.5,716.5 L2256.6,717.8 L2257.8,718.8 L2259.0,720.5 L2260.1,721.7 L2261.3,723.9 L2262.5,726.7 L2263.7,720.7 L2264.8,714.5 L2266.0,711.4 L2267.2,710.6 L2268.3,710.9 L2269.5,709.8 L2270.7,709.2 L2271.9,702.0 L2273.0,696.2 L2274.2,693.3 L2275.4,688.6 L2276.5,687.1 L2277.7,688.4 L2278.9,689.6 L2280.0,692.0 L2281.2,696.7 L2282.4,694.8 L2283.6,696.1 L2284.7,694.5 L2285.9,693.3 L2287.1,695.5 L2288.2,698.1 L2289.4,701.4 L2290.6,703.4 L2291.8,701.5 L2292.9,701.0 L2294.1,700.3 L2295.3,700.1 L2296.4,699.3 L2297.6,699.7 L2298.8,698.9 L2300.0,702.2 L2301.1,703.6 L2302.3,702.9 L2303.5,705.3 L2304.6,712.4 L2305.8,719.8 L2307.0,718.5 L2308.1,716.9 L2309.3,716.9 L2310.5,717.8 L2311.7,720.4 L2312.8,721.8 L2314.0,721.2 L2315.2,720.1 L2316.3,718.3 L2317.5,716.9 L2318.7,722.3 L2319.9,728.1 L2321.0,732.3 L2322.2,734.6 L2323.4,735.6 L2324.5,733.4 L2325.7,733.9 L2326.9,731.8 L2328.1,732.4 L2329.2,730.7 L2330.4,731.9 L2331.6,730.1 L2332.7,728.9 L2333.9,727.3 L2335.1,728.2 L2336.3,726.3 L2337.4,729.5 L2338.6,732.4 L2339.8,735.9 L2340.9,732.7 L2342.1,729.4 L2343.3,725.4 L2344.4,723.6 L2345.6,720.5 L2346.8,720.2 L2348.0,720.1 L2349.1,725.3 L2350.3,731.4 L2351.5,734.4 L2352.6,735.6 L2353.8,735.8 L2355.0,735.5 L2356.2,736.8 L2357.3,728.0 L2358.5,718.7 L2359.7,717.0 L2360.8,713.6 L2362.0,712.0 L2363.2,723.6 L2364.4,732.7 L2365.5,734.8 L2366.7,733.9 L2367.9,736.2 L2369.0,740.1 L2370.2,743.1 L2371.4,748.6 L2372.6,748.5 L2373.7,748.1 L2374.9,749.1 L2376.1,740.1 L2377.2,733.3 L2378.4,724.9 L2379.6,720.4 L2380.7,719.6 L2381.9,721.4 L2383.1,725.3 L2384.3,726.0 L2385.4,729.1 L2386.6,730.6 L2387.8,731.0 L2388.9,730.1 L2390.1,729.6 L2391.3,728.9 L2392.5,730.6 L2393.6,731.4 L2394.8,732.9 L2396.0,733.3 L2397.1,730.1 L2398.3,725.2 L2399.5,722.5 L2400.7,715.2 L2401.8,717.0 L2403.0,718.2 L2404.2,719.6 L2405.3,721.6 L2406.5,720.1 L2407.7,720.9 L2408.9,718.8 L2410.0,718.6 L2411.2,711.4 L2412.4,705.9 L2413.5,702.6 L2414.7,700.0 L2415.9,700.0 L2417.0,701.9 L2418.2,703.1 L2419.5,699.6 L2420.9,696.4 L2422.2,693.6 L2423.7,702.3 L2425.2,707.0 L2426.4,712.6 L2427.6,717.5 L2428.8,721.5 L2429.9,725.4 L2431.1,728.4 L2432.3,728.9 L2433.4,730.2 L2434.6,731.1 L2435.8,734.0 L2437.0,739.3 L2438.1,741.0 L2439.3,739.6 L2440.5,737.6 L2441.6,735.4 L2442.8,732.0 L2444.0,734.6 L2445.2,738.1 L2446.3,742.0 L2447.5,745.6 L2448.7,750.4 L2449.8,755.4 L2451.0,761.5 L2452.2,763.8 L2453.3,767.6 L2454.5,773.2 L2455.7,779.0 L2456.9,774.2 L2458.0,768.4 L2459.2,762.5 L2460.4,761.8 L2461.5,762.9 L2462.7,766.1 L2463.9,767.8 L2465.1,770.3 L2466.2,771.5 L2467.4,773.1 L2468.6,774.7 L2469.7,776.7 L2470.9,778.6 L2472.1,779.2 L2473.3,780.9 L2474.4,782.4 L2475.6,785.4 L2476.8,786.0 L2477.9,789.5 L2479.1,791.0 L2480.3,783.6 L2481.5,776.7 L2482.6,769.7 L2483.8,768.9 L2485.0,768.8 L2486.1,767.5 L2487.3,766.5 L2488.5,773.4 L2489.6,780.6 L2490.8,788.8 L2492.0,792.6 L2493.2,793.2 L2494.3,797.6 L2495.5,799.9 L2496.7,798.9 L2497.8,799.7 L2499.0,798.9 L2500.2,794.8 L2501.4,795.9 L2502.5,794.5 L2503.7,796.0 L2504.9,796.8 L2506.0,790.9 L2507.2,786.4 L2508.4,781.7 L2509.6,780.7 L2510.7,777.3 L2511.9,774.2 L2513.1,778.4 L2514.2,782.8 L2515.4,790.1 L2516.6,793.3 L2517.8,798.9 L2518.9,802.6 L2520.1,802.0 L2521.3,799.8 L2522.4,801.2 L2523.6,800.3 L2524.8,801.7 L2525.9,801.7 L2527.1,801.9 L2528.3,804.5 L2529.5,801.7 L2530.6,801.0 L2531.8,800.1 L2533.0,810.3 L2534.1,820.4 L2535.3,823.6 L2536.5,828.4 L2537.7,823.1 L2538.8,817.2 L2540.0,814.1 L2541.2,810.3 L2542.3,805.7 L2543.5,802.7 L2544.7,800.4 L2545.9,798.5 L2547.0,795.6 L2548.2,792.8 L2549.4,792.4 L2550.5,791.2 L2551.7,790.8 L2552.9,793.4 L2554.1,799.5 L2555.2,804.9 L2556.4,808.6 L2557.6,810.3 L2558.7,812.5 L2559.9,810.9 L2561.1,811.1 L2562.2,810.4 L2563.4,807.5 L2564.6,810.4 L2565.8,811.4 L2566.9,813.3 L2568.1,814.0 L2569.3,814.5 L2570.4,816.3 L2571.6,816.7 L2572.8,816.6 L2574.0,817.6 L2575.1,819.5 L2576.3,820.0 L2577.5,819.5 L2578.6,820.2 L2580.0,816.2 L2581.4,816.9 L2582.7,818.0 L2584.1,819.7 L2585.4,821.4 L2586.8,823.3 L2588.1,825.0 L2589.5,825.6 L2590.8,826.0 L2592.2,826.5 L2593.5,827.0 L2594.9,828.1 L2596.2,827.9 L2597.6,826.5 L2598.9,827.9 L2600.3,825.9 L2601.6,824.8 L2603.0,827.7 L2604.3,828.5 L2605.7,829.7 L2607.0,829.5 L2608.4,830.6 L2609.7,831.2 L2611.1,833.6 L2612.4,833.9 L2613.6,836.1 L2614.8,839.0 L2616.0,841.0 L2617.2,842.9 L2618.4,847.0 L2619.6,848.9 L2621.1,849.3 L2622.6,849.2 L2624.1,847.4 L2625.4,849.1 L2626.7,848.6 L2627.9,848.2 L2629.2,848.3 L2630.5,847.2 L2631.8,847.1 L2633.2,844.7 L2634.5,843.1 L2635.9,841.4 L2637.1,840.2 L2638.3,839.6 L2639.5,839.4 L2640.7,842.9 L2641.9,845.4 L2643.1,848.2 L2644.4,846.9 L2645.8,847.1 L2647.1,845.7 L2648.5,843.9 L2649.8,842.5 L2651.2,843.7 L2652.5,844.8 L2653.9,845.8 L2655.2,844.8 L2656.6,846.0 L2657.9,846.5 L2659.3,848.8 L2660.6,849.5 L2662.0,852.5 L2663.3,843.7 L2664.7,836.4 L2666.0,834.2 L2667.4,834.7 L2668.7,840.8 L2670.1,847.0 L2671.4,849.5 L2672.8,848.5 L2674.1,857.1 L2675.5,865.0 L2677.0,865.9 L2678.5,863.1 L2680.0,862.5 L2681.2,862.6 L2682.4,864.5 L2683.6,865.5 L2685.1,864.4 L2686.6,865.8 L2688.1,863.2 L2689.3,862.8 L2690.5,858.2 L2691.7,852.6 L2692.9,859.1 L2694.1,861.4 L2695.3,863.1 L2697.1,845.6 L2698.9,831.0 L2700.0,831.9 L2701.1,829.4 L2702.5,845.4 L2704.3,851.1 L2706.1,847.4 L2707.5,849.2 L2708.8,846.3" fill="none" stroke-width="10.5" stroke-linejoin="round" stroke-linecap="round"/></defs>
<clipPath id="pa"><rect x="232.3" y="300" width="2477" height="790"/></clipPath>
<g class="ser" clip-path="url(#pa)">
<path d="M232.1,1016.9 L233.4,1017.5 L234.7,1017.7 L236.1,1017.8 L237.4,1018.1 L238.8,1018.1 L240.1,1019.1 L241.4,1019.6 L242.8,1020.0 L244.1,1019.6 L245.4,1018.8 L246.8,1018.0 L248.1,1016.3 L249.5,1016.8 L250.8,1017.2 L252.1,1017.5 L253.5,1016.8 L254.8,1015.4 L256.2,1014.9 L257.5,1014.6 L258.8,1015.3 L260.2,1015.1 L261.5,1015.7 L262.9,1015.6 L264.2,1016.3 L265.5,1016.0 L266.9,1015.4 L268.2,1016.0 L269.6,1015.4 L270.9,1015.5 L272.2,1014.0 L273.6,1012.6 L274.9,1011.6 L276.3,1010.2 L277.6,1009.2 L278.9,1008.0 L280.3,1006.3 L281.6,1003.0 L283.0,1000.1 L284.3,998.3 L285.6,995.4 L287.0,993.3 L288.3,993.2 L289.6,991.8 L291.0,992.1 L292.3,991.9 L293.7,990.3 L295.0,995.4 L296.3,1001.9 L297.7,1000.3 L299.0,1000.2 L300.4,999.7 L301.7,999.0 L303.0,998.3 L304.4,998.2 L305.7,998.1 L307.1,997.4 L308.4,997.1 L309.7,995.8 L311.1,993.5 L312.4,992.5 L313.8,988.9 L315.1,985.2 L316.4,981.7 L317.8,981.4 L319.1,982.2 L320.5,984.7 L321.8,985.1 L323.1,987.9 L324.5,987.1 L325.8,988.4 L327.2,988.9 L328.5,984.4 L329.8,979.7 L331.2,978.7 L332.5,974.6 L333.8,971.5 L335.2,970.9 L336.5,971.7 L337.9,972.3 L339.2,972.9 L340.4,971.9 L341.5,971.8 L342.7,969.5 L344.3,973.3 L345.9,974.9 L347.2,979.9 L348.6,985.3 L349.9,986.5 L351.3,985.5 L352.6,982.1 L353.9,978.9 L355.3,976.9 L356.6,974.2 L358.0,973.0 L359.3,972.7 L360.6,972.1 L362.0,974.0 L363.3,974.4 L364.7,972.4 L366.0,970.3 L367.3,967.8 L368.7,966.6 L370.0,965.6 L371.4,962.4 L372.7,965.7 L374.0,969.2 L375.9,982.5 L377.1,980.4 L378.2,979.3 L379.4,977.5 L380.7,981.9 L382.1,984.8 L383.4,986.4 L384.7,988.1 L386.1,990.0 L387.4,990.4 L388.8,989.1 L390.1,989.1 L391.4,990.3 L392.8,991.7 L394.1,994.1 L395.5,993.5 L396.8,992.6 L398.1,990.6 L399.5,992.5 L400.8,993.7 L402.2,994.6 L403.5,989.1 L404.8,983.4 L406.2,977.2 L407.5,975.4 L408.9,973.6 L410.2,970.7 L411.5,971.6 L412.9,969.9 L414.2,967.7 L415.6,965.2 L416.9,965.1 L418.2,965.3 L419.6,963.7 L420.9,965.3 L422.3,967.5 L423.6,966.0 L424.9,963.2 L426.3,961.8 L427.6,960.6 L428.9,961.6 L430.3,962.2 L431.6,963.5 L433.0,963.0 L434.3,961.5 L435.6,961.5 L437.0,962.0 L438.3,960.4 L439.7,959.5 L441.0,958.2 L442.3,957.5 L443.7,954.3 L445.0,953.5 L446.4,954.0 L447.7,953.3 L449.0,953.9 L450.4,956.4 L451.7,958.2 L453.1,958.9 L454.4,956.1 L455.7,955.2 L457.1,955.7 L458.4,957.4 L459.8,959.4 L461.1,958.8 L462.4,956.4 L463.8,952.5 L465.1,951.1 L466.5,942.1 L467.8,936.1 L469.1,932.8 L470.5,928.6 L471.8,927.9 L473.1,927.8 L474.5,926.3 L475.8,925.2 L477.2,925.4 L478.5,923.0 L479.8,923.0 L481.2,924.7 L482.5,920.2 L483.7,921.1 L484.8,919.2 L485.9,918.0 L487.1,916.1 L488.2,918.1 L489.4,919.3 L490.6,917.9 L491.9,917.3 L493.2,919.1 L494.6,920.0 L495.9,921.6 L497.3,925.9 L498.6,929.2 L499.9,933.8 L501.3,934.7 L502.6,933.1 L504.0,932.6 L505.3,934.1 L506.6,937.9 L508.0,941.6 L509.3,942.7 L510.7,945.3 L512.0,946.5 L513.3,945.4 L514.7,943.1 L516.0,944.2 L517.3,944.0 L518.7,943.2 L520.0,943.4 L521.4,940.0 L522.7,936.1 L524.0,937.2 L525.4,939.6 L526.7,940.4 L528.1,942.1 L529.4,940.3 L530.7,937.2 L532.1,936.9 L533.4,934.7 L534.8,932.6 L536.1,931.9 L537.4,928.0 L538.8,927.7 L540.1,928.8 L541.5,930.1 L542.8,929.2 L544.1,929.2 L545.5,928.0 L546.8,928.2 L548.2,927.6 L549.5,926.6 L550.8,926.9 L552.2,925.5 L553.5,924.0 L554.9,926.9 L556.2,928.4 L557.5,925.7 L558.9,926.0 L560.2,921.7 L561.5,918.8 L562.9,916.8 L564.2,915.5 L565.6,913.0 L566.9,913.2 L568.2,912.2 L569.6,912.5 L570.9,913.2 L572.3,910.7 L573.6,910.9 L574.9,908.7 L576.3,906.3 L577.6,903.0 L579.0,897.5 L580.3,891.0 L581.6,889.4 L583.0,889.9 L584.3,887.9 L585.7,881.3 L587.0,877.6 L588.3,875.0 L589.7,871.5 L591.0,868.9 L592.4,864.8 L593.7,860.9 L595.0,856.1 L596.4,854.0 L597.7,846.8 L599.1,839.7 L600.4,831.5 L601.7,825.8 L602.9,824.1 L604.1,825.6 L605.2,828.0 L606.8,821.6 L608.4,816.9 L609.8,820.1 L611.1,826.8 L612.4,829.2 L613.8,836.7 L615.1,844.4 L616.5,844.1 L617.8,847.2 L619.1,853.6 L620.5,854.4 L621.8,858.6 L623.2,862.7 L624.5,863.9 L625.8,864.5 L627.2,854.3 L628.5,854.5 L629.9,853.2 L631.2,849.4 L632.5,854.2 L633.9,858.4 L635.2,857.0 L636.6,854.5 L637.9,853.2 L639.2,846.5 L640.6,841.2 L641.9,836.1 L643.3,829.6 L644.6,823.3 L645.9,816.2 L647.1,815.2 L648.3,813.1 L649.4,809.3 L650.6,810.6 L651.7,811.2 L652.8,812.3 L654.0,812.8 L655.3,815.8 L656.6,817.5 L658.0,818.6 L659.3,821.7 L660.7,826.3 L662.0,829.7 L663.3,832.9 L664.7,836.2 L666.0,842.2 L667.4,850.9 L668.7,857.7 L670.0,861.4 L671.4,866.3 L672.7,871.3 L674.1,876.0 L675.4,878.3 L676.7,878.6 L678.1,878.5 L679.7,882.6 L681.3,888.7 L682.5,886.7 L683.6,883.0 L684.8,880.9 L686.1,880.8 L687.5,876.0 L688.8,872.3 L690.1,868.7 L691.5,864.8 L692.8,860.3 L694.1,857.8 L695.5,859.0 L696.8,857.2 L698.2,857.7 L699.5,857.0 L700.8,859.3 L702.0,857.7 L703.2,856.1 L704.3,851.0 L705.5,853.2 L706.6,854.8 L707.7,853.7 L708.9,855.7 L710.2,856.0 L711.6,857.8 L712.9,858.1 L714.2,859.9 L715.6,860.8 L716.9,862.2 L718.3,863.3 L719.6,865.6 L720.9,866.9 L722.3,868.8 L723.6,872.4 L725.0,874.4 L726.3,877.4 L727.6,875.3 L729.0,873.5 L730.3,872.2 L731.7,868.0 L733.0,864.3 L734.3,860.2 L735.7,856.4 L737.0,854.7 L738.3,853.6 L739.7,851.5 L741.0,848.4 L742.4,850.9 L743.7,851.5 L745.0,852.7 L746.4,852.7 L747.7,852.9 L749.1,855.8 L750.4,853.3 L751.7,850.0 L753.1,851.7 L754.4,849.7 L755.8,847.9 L757.1,847.0 L758.4,844.9 L759.8,846.1 L761.1,847.1 L762.5,847.5 L763.8,848.6 L765.1,849.8 L766.5,849.5 L767.8,849.9 L769.2,851.3 L770.5,849.6 L771.8,856.2 L773.2,858.2 L774.5,860.8 L775.9,861.9 L777.2,860.8 L778.5,861.4 L779.9,859.9 L781.2,861.0 L782.6,859.4 L783.9,860.9 L785.2,860.6 L786.6,856.4 L787.9,859.3 L789.2,862.8 L790.6,862.7 L791.9,861.9 L793.3,863.6 L794.6,861.9 L795.9,858.2 L797.3,860.8 L798.6,862.7 L800.0,863.9 L801.3,861.7 L802.6,857.2 L804.0,852.0 L805.3,850.5 L806.7,847.1 L808.0,842.3 L809.3,840.6 L810.7,838.9 L812.0,834.9 L813.4,835.4 L814.7,836.5 L816.0,836.0 L817.4,838.1 L818.7,836.1 L820.1,837.1 L821.4,839.5 L822.7,842.3 L824.1,841.1 L825.4,840.4 L826.8,838.4 L828.1,840.2 L829.4,837.4 L830.8,835.1 L832.1,830.5 L833.4,826.8 L834.8,821.8 L836.1,819.9 L837.5,817.6 L838.8,819.1 L840.1,823.6 L841.5,824.1 L842.8,822.8 L844.2,823.9 L845.5,834.0 L846.8,849.3 L848.2,843.5 L849.5,844.0 L850.9,842.5 L852.2,843.4 L853.5,844.1 L854.9,844.7 L856.2,863.2 L857.6,877.8 L858.9,880.1 L860.2,882.5 L861.6,883.5 L862.9,887.7 L864.3,886.9 L865.6,887.7 L866.9,887.5 L868.3,889.3 L869.6,895.4 L871.5,907.6 L872.6,899.0 L873.6,893.1 L875.0,889.7 L876.3,889.2 L877.6,888.2 L879.0,886.2 L880.3,883.7 L881.7,882.6 L883.0,876.6 L884.3,873.6 L885.7,873.7 L887.0,872.1 L888.4,874.5 L889.7,878.1 L891.0,875.0 L892.4,876.5 L893.7,881.7 L895.1,890.4 L896.4,897.5 L897.7,904.8 L899.1,912.0 L900.4,917.3 L901.8,924.1 L903.1,920.5 L904.4,916.8 L905.8,912.3 L907.1,917.3 L908.5,925.1 L910.0,919.6 L911.3,928.2 L912.7,941.0 L914.0,945.7 L915.4,952.6 L916.7,960.3 L918.0,958.6 L919.4,960.0 L920.7,958.3 L922.1,955.0 L923.4,950.4 L924.7,945.5 L926.1,941.8 L927.4,938.9 L928.8,937.7 L930.1,939.7 L931.4,943.8 L932.8,944.2 L934.1,943.1 L935.4,940.2 L936.8,935.3 L938.1,940.8 L939.5,943.6 L940.8,945.6 L942.1,946.0 L943.5,947.4 L944.8,946.2 L946.2,943.7 L947.5,942.6 L948.8,938.8 L950.2,934.5 L951.5,931.5 L952.9,926.1 L954.2,919.5 L955.5,914.7 L956.9,909.8 L958.2,903.9 L959.6,899.7 L960.9,896.1 L962.2,904.2 L963.6,907.0 L964.9,902.7 L966.3,895.9 L967.6,889.5 L968.7,888.3 L969.9,887.0 L971.0,884.4 L972.1,881.7 L973.3,886.6 L974.5,891.9 L975.6,894.4 L977.0,895.7 L978.3,897.0 L979.6,894.8 L981.0,892.2 L982.3,889.4 L983.7,893.9 L985.0,894.9 L986.3,896.7 L987.7,898.4 L989.0,898.6 L990.4,895.9 L991.7,893.2 L993.0,887.4 L994.4,885.0 L995.7,883.5 L997.1,878.0 L998.4,873.3 L999.7,867.1 L1001.1,864.9 L1002.4,861.2 L1003.8,854.9 L1005.1,848.9 L1006.4,843.8 L1007.6,839.9 L1008.8,838.0 L1010.1,834.4 L1011.3,833.9 L1012.9,838.0 L1014.5,843.9 L1015.8,842.9 L1017.2,841.7 L1018.5,842.4 L1019.8,844.8 L1021.2,849.8 L1022.5,858.2 L1023.8,864.6 L1025.2,868.5 L1026.5,871.7 L1027.9,875.8 L1029.5,880.1 L1031.1,886.7 L1032.2,879.5 L1033.2,872.5 L1034.6,874.5 L1035.9,872.8 L1037.2,871.4 L1038.4,874.9 L1039.6,872.1 L1040.7,871.1 L1042.6,880.5 L1043.9,880.0 L1045.3,879.4 L1046.6,877.9 L1048.0,881.1 L1049.3,883.7 L1050.6,886.3 L1052.0,891.5 L1053.3,898.4 L1054.7,902.2 L1056.0,905.8 L1057.3,911.3 L1058.7,910.0 L1060.0,908.7 L1061.4,909.5 L1062.7,916.6 L1064.0,923.4 L1065.4,924.5 L1066.7,924.7 L1068.0,924.1 L1069.4,922.8 L1070.7,922.6 L1072.1,921.6 L1073.4,914.5 L1074.7,908.6 L1076.1,906.8 L1077.4,906.8 L1078.8,906.6 L1080.1,911.6 L1081.4,915.6 L1082.8,919.4 L1084.1,924.5 L1085.5,926.7 L1086.8,931.6 L1088.1,933.5 L1089.5,935.7 L1090.8,934.8 L1092.2,931.5 L1093.5,931.5 L1094.8,930.4 L1096.2,926.1 L1097.5,924.7 L1099.1,924.6 L1100.7,924.8 L1101.9,927.6 L1103.1,928.1 L1104.2,930.9 L1105.6,933.8 L1106.9,934.9 L1108.2,936.2 L1109.6,935.8 L1110.9,936.4 L1112.3,939.8 L1113.6,940.7 L1114.9,941.1 L1116.3,940.9 L1117.6,949.2 L1118.9,953.3 L1120.3,958.1 L1121.6,962.5 L1123.0,960.0 L1124.3,955.4 L1125.6,951.3 L1127.0,948.6 L1128.3,945.9 L1129.7,941.5 L1131.0,938.4 L1132.3,936.0 L1133.7,932.7 L1135.0,929.6 L1136.4,927.0 L1137.7,925.4 L1139.0,925.8 L1140.4,925.3 L1141.7,926.9 L1143.1,929.0 L1144.4,928.8 L1145.7,927.3 L1147.1,926.3 L1148.4,924.3 L1149.8,923.1 L1151.1,920.9 L1152.4,918.4 L1153.8,915.9 L1155.1,914.7 L1156.5,913.4 L1157.8,912.0 L1159.1,909.6 L1160.5,908.5 L1161.8,908.5 L1163.1,910.6 L1164.5,913.0 L1165.8,916.3 L1167.2,919.2 L1168.5,922.7 L1169.8,923.3 L1171.2,922.4 L1172.5,922.8 L1173.9,925.1 L1175.2,932.6 L1176.5,940.3 L1177.9,940.0 L1179.2,939.1 L1180.6,939.2 L1181.9,939.8 L1183.2,942.8 L1184.6,948.1 L1185.9,949.3 L1187.3,953.0 L1188.6,956.0 L1189.9,958.8 L1191.3,954.3 L1192.6,948.3 L1194.0,945.7 L1195.3,944.5 L1196.6,943.4 L1198.0,944.1 L1199.3,940.4 L1200.7,942.0 L1202.0,942.8 L1203.3,942.9 L1204.7,942.1 L1206.0,942.0 L1207.3,940.8 L1208.7,938.3 L1210.0,940.3 L1211.4,942.4 L1212.7,945.9 L1214.0,949.2 L1215.4,950.1 L1216.7,951.0 L1218.1,951.5 L1219.4,950.4 L1220.7,949.5 L1222.1,949.9 L1223.4,947.9 L1224.8,945.9 L1226.1,943.8 L1227.4,942.3 L1228.8,940.4 L1230.1,937.3 L1231.5,934.4 L1232.8,932.5 L1234.1,928.9 L1235.5,927.7 L1236.8,926.0 L1238.2,922.0 L1239.5,919.7 L1240.8,919.6 L1242.2,916.6 L1243.5,917.4 L1244.9,915.7 L1246.2,914.6 L1247.5,911.7 L1248.9,907.7 L1250.2,904.3 L1251.5,903.2 L1252.9,900.6 L1254.2,901.9 L1255.6,903.6 L1256.9,904.6 L1258.2,898.2 L1259.6,889.9 L1260.9,889.6 L1262.3,886.8 L1263.6,887.6 L1264.9,885.2 L1266.3,884.6 L1267.6,881.8 L1269.0,879.5 L1270.3,878.9 L1271.6,875.4 L1273.0,871.3 L1274.3,865.5 L1275.7,866.4 L1277.0,866.7 L1278.3,863.7 L1279.7,862.0 L1281.0,858.9 L1282.4,855.4 L1283.7,858.9 L1285.0,862.8 L1286.4,861.4 L1287.7,859.2 L1289.1,856.7 L1290.4,852.4 L1291.7,857.7 L1293.1,862.1 L1294.4,875.0 L1295.7,887.5 L1297.1,883.6 L1298.4,881.9 L1299.8,878.4 L1301.1,878.0 L1302.4,878.6 L1303.8,880.8 L1305.1,880.5 L1306.5,880.3 L1307.8,880.0 L1309.1,880.9 L1310.5,883.3 L1311.8,883.7 L1313.2,883.6 L1314.5,882.9 L1315.8,880.0 L1317.2,875.2 L1318.5,874.9 L1319.9,873.6 L1321.2,866.3 L1322.5,863.8 L1323.9,860.9 L1325.2,857.2 L1326.6,858.3 L1327.9,857.1 L1329.2,855.0 L1330.6,851.6 L1331.9,849.1 L1333.3,844.2 L1334.6,840.8 L1335.9,838.8 L1337.3,836.4 L1338.6,834.0 L1339.9,833.2 L1341.3,834.2 L1342.6,829.7 L1344.0,826.0 L1345.3,824.5 L1346.6,819.0 L1348.0,814.2 L1349.3,811.3 L1350.7,810.0 L1352.0,809.7 L1353.3,816.7 L1354.7,820.3 L1356.0,824.3 L1357.4,823.8 L1358.7,828.3 L1360.0,829.5 L1361.4,831.9 L1362.7,830.5 L1364.1,827.2 L1365.4,826.6 L1366.7,824.5 L1368.1,820.8 L1369.4,820.8 L1370.8,820.1 L1372.1,816.8 L1373.4,817.1 L1374.8,813.9 L1376.1,811.4 L1377.5,808.3 L1378.8,807.7 L1380.1,804.9 L1381.5,802.1 L1382.8,798.8 L1384.1,795.7 L1385.5,790.6 L1386.8,784.8 L1388.2,780.9 L1389.5,773.8 L1390.8,780.5 L1392.2,785.0 L1393.8,790.9 L1395.4,798.2 L1396.7,791.0 L1398.1,782.7 L1399.2,779.2 L1400.4,774.4 L1401.6,769.9 L1402.9,766.8 L1404.2,762.3 L1405.6,758.8 L1406.9,748.7 L1408.3,737.1 L1409.6,728.0 L1410.9,719.2 L1412.3,719.3 L1413.6,719.2 L1415.0,717.7 L1416.3,716.6 L1417.6,715.4 L1418.7,721.7 L1419.8,730.1 L1421.0,719.8 L1422.2,709.8 L1423.3,706.4 L1424.3,702.7 L1425.7,691.9 L1427.0,680.9 L1428.3,678.4 L1429.7,677.5 L1431.0,685.3 L1432.4,692.2 L1433.7,715.9 L1435.0,721.2 L1436.4,725.0 L1438.3,755.7 L1439.4,749.1 L1440.6,743.4 L1441.7,736.9 L1443.1,738.9 L1444.4,742.9 L1445.8,735.0 L1447.1,724.5 L1448.4,723.5 L1449.8,719.7 L1451.1,719.4 L1452.5,720.6 L1453.8,722.7 L1455.1,725.2 L1456.5,720.9 L1457.8,714.2 L1459.2,709.1 L1460.5,705.8 L1461.8,703.2 L1463.2,699.0 L1464.5,693.0 L1465.9,686.3 L1467.2,681.9 L1468.5,673.9 L1469.9,669.3 L1471.2,666.1 L1472.6,663.4 L1473.9,659.7 L1475.2,663.0 L1476.6,669.4 L1477.9,662.9 L1479.2,657.5 L1480.6,652.1 L1481.9,645.9 L1483.1,655.1 L1484.2,664.9 L1485.4,672.7 L1486.7,671.5 L1488.1,667.3 L1489.7,657.1 L1491.3,645.7 L1492.4,633.8 L1493.4,621.4 L1495.1,615.4 L1496.7,613.3 L1498.0,612.5 L1499.3,611.1 L1500.7,610.8 L1501.8,612.6 L1503.0,612.3 L1504.2,613.4 L1506.0,594.9 L1507.4,591.1 L1508.7,586.1 L1510.1,580.6 L1511.4,583.8 L1512.7,586.8 L1514.3,611.7 L1515.9,636.3 L1517.0,618.4 L1518.1,600.0 L1519.2,585.4 L1520.2,572.6 L1521.5,563.4 L1522.8,556.8 L1524.0,544.5 L1525.2,535.6 L1526.3,526.2 L1527.5,521.5 L1528.7,516.4 L1529.9,513.9 L1531.0,514.2 L1532.2,513.5 L1534.1,530.7 L1535.5,523.0 L1536.9,515.6 L1538.1,509.8 L1539.2,505.6 L1540.4,503.3 L1541.6,522.1 L1542.7,543.2 L1544.6,564.7 L1546.0,568.9 L1547.4,572.4 L1548.6,563.1 L1549.8,551.2 L1550.9,545.8 L1552.1,539.2 L1553.3,555.5 L1554.4,571.8 L1556.3,592.1 L1557.5,575.7 L1558.7,561.8 L1560.1,548.4 L1561.5,538.3 L1562.6,531.1 L1563.8,524.1 L1565.0,518.6 L1566.6,505.6 L1567.8,515.3 L1569.0,526.1 L1570.1,529.4 L1571.3,535.0 L1572.7,559.6 L1573.9,566.2 L1575.1,574.1 L1576.7,592.7 L1578.1,596.0 L1579.6,596.4 L1581.0,601.2 L1582.4,624.2 L1583.9,648.1 L1585.4,672.1 L1586.8,679.5 L1588.2,686.3 L1589.5,699.9 L1591.1,732.2 L1591.9,763.7 L1592.7,796.3 L1594.0,812.8 L1594.6,860.3 L1595.7,835.6 L1596.8,813.0 L1598.4,816.7 L1600.0,860.5 L1601.1,864.3 L1602.4,847.2 L1603.7,814.1 L1604.9,810.3 L1606.0,808.8 L1607.5,812.1 L1608.9,812.9 L1610.5,827.6 L1611.8,846.6 L1613.8,820.2 L1615.0,822.2 L1616.2,821.7 L1617.8,845.2 L1619.1,847.0 L1620.3,853.5 L1622.2,830.8 L1623.5,805.9 L1625.1,784.4 L1626.8,783.2 L1628.4,780.9 L1630.0,765.3 L1631.3,744.1 L1632.7,745.7 L1634.1,749.0 L1634.9,721.1 L1636.1,717.8 L1637.3,713.9 L1638.9,730.8 L1640.2,733.8 L1641.4,735.7 L1642.6,737.9 L1644.6,714.5 L1646.2,698.1 L1646.7,698.6 L1648.6,685.0 L1649.7,683.9 L1650.8,685.5 L1651.9,687.1 L1653.0,678.1 L1654.2,671.5 L1656.1,653.2 L1657.3,652.2 L1658.4,654.2 L1659.6,656.7 L1660.8,632.2 L1661.9,639.7 L1663.1,649.1 L1664.3,657.2 L1665.5,647.0 L1666.6,635.5 L1667.8,632.7 L1669.0,630.4 L1670.1,624.9 L1671.3,632.7 L1672.5,639.5 L1673.9,623.9 L1675.3,610.7 L1676.5,612.9 L1677.6,611.2 L1678.8,628.4 L1680.0,643.2 L1681.1,655.8 L1682.3,664.6 L1683.8,652.0 L1685.4,637.6 L1686.5,629.0 L1687.7,619.5 L1688.9,620.0 L1690.0,617.7 L1691.6,607.0 L1693.1,596.1 L1694.3,599.0 L1695.4,604.7 L1697.1,618.4 L1698.9,651.3 L1700.0,662.9 L1701.1,671.3 L1702.2,656.5 L1703.4,637.9 L1704.9,648.9 L1706.4,658.4 L1707.6,660.4 L1708.8,658.7 L1710.0,644.6 L1711.1,626.8 L1712.3,623.2 L1713.5,618.5 L1714.6,612.8 L1715.8,621.9 L1717.0,630.6 L1718.1,630.5 L1719.3,629.1 L1720.5,617.7 L1721.7,607.1 L1722.8,599.0 L1724.0,586.9 L1725.9,575.1 L1727.3,567.4 L1728.7,561.0 L1730.1,565.6 L1732.0,546.7 L1733.4,555.5 L1734.8,564.8 L1736.7,579.6 L1738.1,566.9 L1739.5,555.4 L1740.6,556.5 L1741.8,557.9 L1743.0,552.4 L1744.1,549.4 L1745.3,543.8 L1746.5,550.0 L1747.7,559.4 L1748.8,564.9 L1750.0,573.0 L1751.2,564.5 L1752.3,558.3 L1753.5,552.0 L1754.7,556.6 L1755.9,564.5 L1757.0,570.9 L1758.2,557.4 L1759.4,543.9 L1760.5,522.7 L1761.7,522.3 L1762.9,522.7 L1764.1,521.7 L1765.2,531.6 L1766.4,545.4 L1767.6,543.0 L1768.7,543.3 L1769.9,543.1 L1771.1,550.8 L1772.2,561.6 L1773.4,568.4 L1774.6,558.2 L1775.8,547.9 L1776.9,539.6 L1778.3,545.0 L1779.7,558.3 L1781.4,600.6 L1782.6,611.0 L1783.7,627.9 L1784.9,618.5 L1786.1,610.6 L1787.2,605.4 L1788.4,616.0 L1789.6,630.0 L1791.5,681.3 L1792.9,669.6 L1794.3,654.5 L1795.7,635.1 L1797.1,614.1 L1798.6,625.8 L1800.1,631.5 L1802.0,674.8 L1803.4,657.0 L1804.8,635.8 L1806.0,649.1 L1807.1,660.5 L1808.3,657.4 L1809.5,653.6 L1810.7,653.4 L1811.8,634.6 L1813.0,614.2 L1814.2,596.5 L1815.3,596.5 L1816.5,593.0 L1817.7,593.3 L1818.9,587.6 L1820.0,580.2 L1821.2,583.5 L1822.4,586.9 L1823.5,588.9 L1824.7,594.6 L1825.9,598.1 L1827.0,602.2 L1828.2,602.5 L1829.4,604.1 L1830.6,603.7 L1831.7,605.1 L1832.9,608.1 L1834.1,653.0 L1835.2,656.5 L1836.4,660.6 L1837.6,664.8 L1838.8,658.3 L1839.9,654.2 L1841.1,649.2 L1842.3,647.3 L1843.4,644.4 L1844.6,642.7 L1845.8,643.5 L1847.0,644.9 L1848.1,645.2 L1849.3,637.1 L1850.5,627.6 L1851.6,631.9 L1852.8,637.6 L1854.0,641.4 L1855.2,625.0 L1856.3,610.5 L1857.5,610.5 L1858.7,613.0 L1859.8,613.1 L1861.0,613.8 L1862.2,615.1 L1863.3,615.1 L1864.5,615.9 L1865.7,616.0 L1866.9,624.1 L1868.0,631.5 L1869.2,620.5 L1870.4,606.1 L1871.5,597.1 L1872.7,595.6 L1873.9,592.7 L1875.1,593.2 L1876.2,586.5 L1877.4,581.2 L1878.9,579.6 L1880.4,580.3 L1881.9,584.6 L1883.3,589.3 L1884.4,591.6 L1885.6,591.5 L1886.8,591.3 L1887.9,589.0 L1889.1,588.6 L1890.3,600.6 L1891.5,610.5 L1892.6,614.3 L1893.8,614.5 L1895.0,613.9 L1896.1,610.8 L1897.3,608.7 L1898.5,599.6 L1899.6,593.6 L1900.8,597.1 L1902.0,600.4 L1903.2,604.4 L1904.3,618.2 L1905.5,632.6 L1907.0,648.6 L1908.5,663.7 L1909.7,658.3 L1910.9,652.0 L1912.3,644.3 L1913.7,635.2 L1914.9,637.0 L1916.0,635.3 L1917.2,635.8 L1918.4,640.3 L1919.6,643.5 L1920.7,649.3 L1921.9,638.7 L1923.1,629.5 L1924.2,619.4 L1925.4,613.4 L1926.6,605.9 L1927.8,600.9 L1928.9,605.4 L1930.1,608.4 L1931.3,610.4 L1932.4,614.5 L1933.6,617.8 L1934.8,621.4 L1935.9,623.2 L1937.1,626.0 L1938.3,629.2 L1939.5,630.5 L1940.6,631.1 L1941.8,634.1 L1943.0,637.1 L1944.1,639.6 L1945.3,642.3 L1946.5,643.2 L1947.7,644.9 L1948.8,646.5 L1950.0,644.6 L1951.2,644.0 L1952.3,640.9 L1953.5,638.6 L1954.7,638.3 L1955.9,635.0 L1957.0,631.5 L1958.2,629.3 L1959.4,622.5 L1960.5,620.8 L1961.7,615.9 L1962.9,612.1 L1964.1,611.9 L1965.2,609.6 L1966.4,605.5 L1967.6,604.0 L1968.7,601.5 L1969.9,597.4 L1971.1,597.9 L1972.2,596.6 L1973.4,594.8 L1974.6,594.5 L1975.8,589.9 L1976.9,588.1 L1978.1,586.0 L1979.3,582.8 L1980.4,582.0 L1981.6,580.3 L1982.8,587.8 L1984.0,594.6 L1985.1,587.3 L1986.3,581.2 L1987.5,577.0 L1989.3,571.1 L1990.7,577.7 L1992.2,589.5 L1993.3,596.8 L1994.5,609.6 L1995.7,607.5 L1996.8,607.3 L1998.0,609.0 L1999.2,610.6 L2000.4,616.9 L2001.5,616.6 L2002.7,616.4 L2003.9,615.4 L2005.0,617.5 L2006.2,621.5 L2007.4,628.0 L2008.5,636.3 L2009.7,637.1 L2010.9,638.9 L2012.1,631.1 L2013.2,624.2 L2014.4,619.1 L2015.6,620.2 L2016.7,624.6 L2017.9,627.7 L2019.1,624.4 L2020.3,619.9 L2021.4,620.8 L2022.6,634.9 L2023.8,649.9 L2024.9,643.0 L2026.1,635.7 L2027.3,621.4 L2028.5,602.9 L2029.6,598.3 L2030.8,590.4 L2032.0,594.0 L2033.1,597.5 L2034.3,595.6 L2035.5,595.4 L2036.7,596.1 L2037.8,608.9 L2039.0,623.0 L2040.0,600.6 L2041.2,612.2 L2042.3,625.0 L2043.5,627.1 L2044.7,631.5 L2045.9,635.0 L2047.0,645.4 L2048.2,649.3 L2049.4,661.4 L2050.5,669.9 L2051.7,682.4 L2052.9,691.5 L2054.1,702.3 L2055.2,709.2 L2056.4,713.2 L2057.6,715.0 L2058.7,715.3 L2059.9,714.1 L2061.1,681.9 L2062.2,683.0 L2063.4,679.3 L2064.6,682.6 L2065.8,686.0 L2066.9,685.2 L2068.1,688.6 L2069.3,691.3 L2070.4,691.7 L2071.6,696.1 L2072.8,695.3 L2074.0,702.1 L2075.1,710.0 L2076.3,718.0 L2077.5,726.4 L2078.6,737.3 L2079.8,747.2 L2081.0,749.8 L2082.2,748.2 L2083.3,748.3 L2084.5,747.5 L2085.7,746.3 L2086.8,745.9 L2088.2,733.2 L2089.6,720.1 L2091.2,709.7 L2092.7,699.0 L2093.9,694.2 L2095.0,691.2 L2096.2,687.4 L2097.4,688.5 L2098.5,691.5 L2099.7,691.8 L2100.9,698.5 L2102.1,704.7 L2103.2,705.7 L2104.4,707.5 L2105.6,706.5 L2106.7,703.3 L2107.9,698.7 L2109.1,694.5 L2110.3,690.6 L2111.4,683.9 L2112.6,679.2 L2113.8,678.3 L2114.9,677.1 L2116.1,672.1 L2117.3,667.6 L2118.5,660.0 L2119.6,664.8 L2120.8,667.7 L2122.0,670.8 L2123.1,668.0 L2124.3,660.7 L2125.7,658.1 L2127.1,654.4 L2128.6,658.3 L2130.2,660.3 L2131.6,661.5 L2133.0,658.2 L2134.5,667.7 L2136.0,675.1 L2137.2,675.3 L2138.4,676.1 L2139.5,675.3 L2141.1,683.0 L2142.6,689.0 L2144.0,675.7 L2145.4,663.3 L2146.6,658.7 L2147.7,653.2 L2148.9,651.8 L2150.1,649.8 L2151.2,645.3 L2152.4,643.7 L2153.6,642.9 L2154.8,646.4 L2155.9,649.4 L2157.1,639.9 L2158.3,633.3 L2159.4,631.4 L2160.6,630.0 L2161.8,631.2 L2163.0,632.3 L2164.1,634.8 L2165.3,628.9 L2166.5,625.0 L2167.6,620.9 L2168.8,614.4 L2170.0,612.7 L2171.5,610.2 L2173.0,607.5 L2174.4,608.9 L2175.8,611.0 L2177.0,609.6 L2178.2,610.6 L2179.3,614.4 L2181.2,589.0 L2182.6,586.7 L2184.0,585.2 L2185.2,588.6 L2186.4,596.2 L2187.5,586.9 L2188.7,577.2 L2190.2,571.5 L2191.8,570.2 L2193.2,574.8 L2194.6,578.2 L2195.7,568.1 L2196.9,559.8 L2198.1,558.9 L2199.3,558.3 L2200.4,558.1 L2201.8,553.7 L2203.2,554.1 L2205.1,545.6 L2206.6,555.4 L2208.1,564.1 L2209.3,554.2 L2210.5,546.8 L2212.1,528.6 L2213.3,518.1 L2214.5,509.7 L2215.6,500.1 L2216.8,489.7 L2218.5,516.9 L2219.2,550.4 L2220.3,534.0 L2221.5,519.8 L2222.7,514.6 L2223.8,515.5 L2225.4,514.3 L2226.9,517.4 L2228.5,533.9 L2229.7,534.3 L2230.9,535.5 L2232.0,538.9 L2233.2,537.8 L2234.4,537.1 L2235.6,540.0 L2236.7,552.0 L2238.1,553.4 L2239.5,552.7 L2240.9,553.5 L2242.6,565.2 L2243.7,573.9 L2244.9,580.5 L2246.1,590.3 L2247.3,585.5 L2248.4,579.1 L2249.6,573.5 L2250.8,579.9 L2251.9,585.6 L2253.1,605.1 L2254.3,598.7 L2255.5,594.0 L2256.6,590.4 L2257.8,596.4 L2259.0,605.8 L2260.1,596.9 L2261.3,591.6 L2263.0,621.1 L2264.8,628.2 L2266.7,643.7 L2268.3,619.3 L2269.5,618.8 L2270.7,616.2 L2271.9,617.5 L2273.0,617.3 L2274.2,621.5 L2275.4,626.2 L2276.5,635.0 L2277.7,631.0 L2278.9,630.5 L2280.0,620.0 L2281.2,610.0 L2282.4,603.5 L2283.6,595.8 L2284.7,590.9 L2285.9,591.3 L2287.1,594.7 L2288.2,598.8 L2289.4,594.9 L2290.6,590.9 L2291.8,595.1 L2292.9,601.3 L2294.1,590.4 L2295.3,580.4 L2296.4,578.5 L2297.6,574.8 L2298.8,574.0 L2300.0,576.9 L2301.1,578.6 L2302.3,593.7 L2303.5,607.6 L2304.6,621.8 L2305.8,619.7 L2307.0,619.5 L2308.4,612.2 L2309.8,606.3 L2311.7,591.0 L2312.8,593.0 L2314.0,594.0 L2315.2,591.5 L2316.3,598.8 L2317.5,599.4 L2318.7,612.4 L2319.9,621.0 L2321.0,626.6 L2322.2,630.9 L2323.4,619.5 L2324.5,608.9 L2325.7,608.5 L2326.9,605.1 L2328.1,607.8 L2329.2,612.3 L2330.4,617.1 L2331.8,606.0 L2333.2,597.6 L2334.7,587.6 L2336.3,584.6 L2337.4,587.2 L2338.6,594.4 L2339.8,597.8 L2340.9,589.7 L2342.1,583.0 L2343.3,573.7 L2344.4,568.0 L2345.6,560.5 L2346.8,556.2 L2348.0,553.9 L2349.1,549.4 L2350.3,572.1 L2351.5,589.3 L2352.6,579.3 L2353.8,566.3 L2355.0,572.3 L2356.2,575.3 L2358.0,613.0 L2359.7,658.0 L2360.8,695.9 L2362.0,704.7 L2363.2,669.9 L2364.4,666.5 L2365.5,662.0 L2366.7,658.2 L2367.9,657.4 L2369.0,655.7 L2370.2,659.3 L2371.4,662.0 L2372.6,654.5 L2373.7,648.9 L2375.4,618.7 L2376.9,617.5 L2378.4,613.8 L2379.6,598.2 L2380.7,584.9 L2381.9,589.4 L2383.1,590.1 L2384.3,582.9 L2385.4,575.3 L2386.6,570.9 L2387.8,570.4 L2388.9,563.7 L2390.1,560.1 L2391.3,563.4 L2392.5,569.5 L2393.6,578.0 L2394.8,588.4 L2396.0,575.4 L2397.1,563.3 L2398.3,558.2 L2399.5,556.3 L2401.0,562.7 L2402.5,567.6 L2404.2,533.4 L2405.5,517.5 L2406.8,500.6 L2408.0,495.9 L2409.2,492.0 L2410.5,489.5 L2411.6,481.0 L2412.7,471.4 L2414.1,453.2 L2415.9,434.0 L2417.7,449.1 L2419.0,463.9 L2420.2,439.0 L2421.3,416.6 L2422.9,435.1 L2424.4,457.6 L2425.5,458.7 L2426.7,458.6 L2427.8,465.7 L2428.9,474.4 L2430.0,466.9 L2431.2,462.4 L2432.5,456.7 L2433.9,453.4 L2435.7,463.4 L2437.5,475.0 L2438.6,465.9 L2439.7,454.9 L2441.5,440.3 L2442.7,444.8 L2443.8,448.0 L2444.9,442.3 L2446.0,440.2 L2447.8,455.2 L2449.2,467.4 L2451.0,488.4 L2452.5,481.8 L2454.1,476.9 L2455.7,514.7 L2456.9,495.3 L2458.0,472.6 L2459.0,476.4 L2460.0,477.5 L2461.8,490.4 L2462.9,488.3 L2464.1,485.1 L2465.6,484.7 L2467.2,481.7 L2468.3,487.9 L2469.5,491.2 L2470.8,490.2 L2472.2,486.1 L2473.3,490.3 L2474.4,494.4 L2476.2,499.8 L2477.9,516.7 L2479.1,518.1 L2480.3,516.7 L2481.5,513.4 L2482.6,498.8 L2483.8,513.9 L2485.0,528.6 L2486.1,521.0 L2487.3,512.0 L2488.5,505.5 L2489.6,514.7 L2490.8,524.4 L2492.0,549.3 L2493.2,577.3 L2494.3,563.6 L2495.5,550.7 L2496.7,555.3 L2497.8,559.2 L2499.0,564.4 L2500.2,567.8 L2501.4,580.4 L2502.5,594.8 L2503.7,603.2 L2504.9,614.5 L2506.0,605.0 L2507.2,595.8 L2508.4,588.5 L2509.6,600.1 L2510.7,611.3 L2511.9,613.2 L2513.1,613.9 L2514.2,623.8 L2515.4,633.2 L2516.6,626.1 L2517.8,621.2 L2518.9,613.2 L2520.1,608.6 L2521.3,612.3 L2522.4,612.4 L2523.6,613.1 L2524.8,629.6 L2525.9,630.6 L2527.1,632.3 L2528.3,632.8 L2529.5,645.6 L2530.6,657.8 L2531.8,663.8 L2533.0,669.4 L2534.5,677.5 L2536.0,686.7 L2537.7,643.8 L2538.8,644.6 L2540.0,649.0 L2541.2,638.7 L2542.3,629.6 L2543.5,629.1 L2544.7,630.6 L2545.9,634.0 L2547.0,622.7 L2548.2,615.8 L2549.4,609.4 L2550.8,600.5 L2552.2,593.4 L2553.7,597.3 L2555.2,602.7 L2556.4,611.8 L2557.6,621.8 L2558.7,627.7 L2559.9,633.3 L2561.1,639.2 L2562.2,632.0 L2563.4,627.1 L2564.6,625.2 L2565.8,622.2 L2566.9,618.7 L2568.1,625.0 L2569.3,625.5 L2570.4,627.4 L2571.6,629.6 L2572.8,631.4 L2574.0,632.2 L2575.1,629.5 L2576.3,617.9 L2577.5,603.5 L2578.6,611.2 L2579.8,618.6 L2581.0,624.1 L2582.2,613.2 L2583.3,602.8 L2584.7,599.0 L2586.1,596.0 L2588.0,617.0 L2589.2,623.7 L2590.4,633.5 L2591.7,632.1 L2593.0,628.5 L2594.3,625.0 L2595.9,633.3 L2597.4,639.2 L2598.7,645.7 L2600.0,649.5 L2601.4,654.0 L2602.8,647.1 L2604.2,637.1 L2605.6,628.8 L2606.7,631.0 L2607.9,630.9 L2609.1,630.7 L2610.3,625.4 L2611.4,622.0 L2612.6,615.0 L2613.8,607.2 L2614.9,615.7 L2616.1,623.2 L2617.3,630.6 L2618.5,622.9 L2619.6,619.4 L2620.8,615.4 L2622.0,606.6 L2623.1,607.1 L2624.3,605.5 L2625.5,603.7 L2626.7,600.3 L2627.8,600.1 L2629.0,598.0 L2630.2,597.3 L2631.3,596.1 L2632.5,602.8 L2633.7,608.1 L2634.8,614.6 L2636.0,600.5 L2637.2,586.8 L2638.7,577.7 L2640.2,570.2 L2641.6,582.9 L2643.0,594.2 L2644.2,590.1 L2645.4,585.1 L2646.6,580.7 L2648.1,570.3 L2649.6,559.4 L2651.0,570.6 L2652.4,579.8 L2653.6,584.6 L2654.8,588.2 L2655.9,582.5 L2657.1,576.7 L2658.3,572.2 L2659.4,575.7 L2660.6,577.6 L2661.8,581.1 L2663.7,534.7 L2665.1,531.7 L2666.5,532.1 L2667.6,541.2 L2668.8,551.2 L2670.0,550.9 L2671.1,552.3 L2672.3,554.4 L2674.0,576.9 L2675.5,572.1 L2677.0,570.2 L2678.2,572.3 L2679.3,576.4 L2680.5,581.4 L2681.7,584.6 L2682.9,586.7 L2684.0,590.2 L2685.2,584.5 L2686.4,580.3 L2687.5,575.8 L2688.7,563.3 L2689.9,549.8 L2691.1,558.7 L2692.2,568.4 L2693.4,566.3 L2694.6,562.0 L2695.7,556.3 L2697.4,570.5 L2698.7,584.9 L2700.0,597.1 L2701.4,590.8 L2702.8,579.8 L2703.9,567.5 L2705.1,556.7 L2706.3,546.5 L2707.4,537.5" stroke="#58B5E6" stroke-width="6.5"/>
<path d="M232.1,1027.9 L233.4,1029.0 L234.7,1029.1 L236.1,1029.3 L237.4,1028.8 L238.8,1027.8 L240.1,1028.5 L241.4,1028.9 L242.8,1029.4 L244.1,1030.0 L245.4,1029.4 L246.8,1028.8 L248.1,1028.2 L249.5,1027.3 L250.8,1027.6 L252.1,1026.9 L253.5,1026.1 L254.8,1024.7 L256.2,1024.3 L257.5,1024.5 L258.8,1024.0 L260.2,1022.9 L261.5,1022.4 L262.9,1022.2 L264.2,1021.8 L265.5,1022.2 L266.9,1021.6 L268.2,1021.2 L269.6,1020.7 L270.9,1019.6 L272.2,1019.5 L273.6,1019.7 L274.9,1020.4 L276.3,1020.6 L277.6,1021.2 L278.9,1020.4 L280.3,1020.0 L281.6,1020.7 L283.0,1021.3 L284.3,1020.9 L285.6,1020.2 L287.0,1020.4 L288.3,1019.3 L289.6,1019.0 L291.0,1020.0 L292.3,1020.8 L293.7,1021.0 L295.0,1020.2 L296.3,1021.4 L297.7,1021.8 L299.0,1022.1 L300.4,1020.5 L301.7,1019.7 L303.0,1017.1 L304.4,1016.5 L305.7,1015.7 L307.1,1014.9 L308.4,1015.9 L309.7,1015.4 L311.1,1016.8 L312.4,1016.5 L313.8,1017.4 L315.1,1016.5 L316.4,1015.8 L317.8,1016.9 L319.1,1016.7 L320.5,1016.6 L321.8,1016.9 L323.1,1016.4 L324.5,1015.6 L325.8,1015.6 L327.2,1015.6 L328.5,1015.0 L329.8,1015.3 L331.2,1014.2 L332.5,1013.4 L333.8,1014.3 L335.2,1015.2 L336.5,1014.7 L337.9,1015.6 L339.2,1015.3 L340.5,1014.9 L341.9,1014.8 L343.2,1015.5 L344.6,1016.3 L345.9,1017.6 L347.2,1017.9 L348.6,1019.3 L349.9,1021.7 L351.3,1021.0 L352.6,1021.7 L353.9,1023.3 L355.3,1021.7 L356.6,1020.5 L358.0,1020.2 L359.3,1020.4 L360.6,1020.5 L362.0,1020.7 L363.3,1019.5 L364.7,1019.3 L366.0,1019.4 L367.3,1018.5 L368.7,1017.7 L370.0,1019.6 L371.4,1021.3 L372.7,1022.5 L374.0,1024.4 L375.4,1025.5 L376.7,1026.7 L378.0,1027.9 L379.4,1028.4 L380.7,1028.2 L382.3,1029.1 L383.9,1029.5 L385.1,1027.4 L386.3,1026.1 L387.4,1024.7 L388.8,1024.8 L390.1,1025.3 L391.4,1025.4 L392.8,1024.3 L394.1,1023.7 L395.5,1023.6 L396.8,1024.2 L398.1,1025.3 L399.5,1025.2 L400.8,1026.0 L402.2,1026.0 L403.5,1025.4 L404.8,1024.9 L406.2,1023.8 L407.5,1022.1 L408.9,1020.6 L410.2,1019.4 L411.5,1020.7 L412.9,1020.4 L414.2,1021.3 L415.6,1020.6 L416.9,1021.1 L418.2,1021.1 L419.6,1020.4 L420.9,1020.0 L422.3,1020.7 L423.6,1019.8 L424.9,1020.3 L426.3,1020.6 L427.6,1020.4 L428.9,1022.2 L430.3,1022.5 L431.6,1023.3 L433.0,1023.6 L434.3,1023.2 L435.6,1023.2 L437.0,1021.9 L438.3,1020.8 L439.7,1020.9 L441.0,1020.3 L442.3,1020.4 L443.7,1019.7 L445.0,1020.0 L446.4,1020.4 L447.7,1019.6 L449.0,1018.6 L450.4,1018.7 L451.7,1018.3 L453.1,1018.1 L454.4,1018.1 L455.7,1018.4 L457.1,1018.2 L458.4,1017.6 L459.8,1018.5 L461.1,1018.8 L462.4,1020.3 L463.8,1019.2 L465.1,1017.8 L466.5,1017.1 L467.8,1017.6 L469.1,1016.4 L470.5,1017.0 L471.8,1017.3 L473.1,1018.0 L474.5,1017.4 L475.8,1018.6 L477.2,1019.0 L478.5,1020.3 L479.8,1020.7 L481.2,1020.3 L482.5,1020.5 L483.9,1021.3 L485.2,1022.6 L486.5,1022.4 L487.9,1022.5 L489.2,1022.6 L490.6,1022.0 L491.9,1021.5 L493.2,1021.2 L494.6,1021.5 L495.9,1022.2 L497.3,1021.6 L498.6,1022.2 L499.9,1022.4 L501.3,1021.5 L502.6,1022.3 L504.0,1022.6 L505.3,1022.7 L506.6,1022.7 L508.0,1021.7 L509.3,1022.1 L510.7,1021.2 L512.0,1020.2 L513.3,1019.2 L514.7,1019.2 L516.0,1019.8 L517.3,1021.2 L518.7,1020.3 L520.0,1020.5 L521.4,1021.7 L522.7,1021.4 L524.0,1023.1 L525.4,1022.3 L526.7,1021.5 L528.1,1021.7 L529.4,1021.7 L530.7,1021.1 L532.1,1021.5 L533.4,1020.8 L534.8,1020.7 L536.1,1021.7 L537.4,1022.2 L538.8,1021.1 L540.1,1021.3 L541.5,1021.6 L542.8,1021.3 L544.1,1020.6 L545.5,1019.2 L546.8,1018.7 L548.2,1018.3 L549.5,1018.3 L550.8,1016.7 L552.2,1016.2 L553.5,1015.6 L554.9,1015.6 L556.2,1014.4 L557.5,1014.1 L558.9,1012.7 L560.2,1013.1 L561.5,1012.6 L562.9,1012.9 L564.2,1013.4 L565.6,1012.9 L566.9,1013.1 L568.2,1013.7 L569.6,1013.7 L570.9,1013.0 L572.3,1012.3 L573.6,1012.3 L574.9,1012.1 L576.3,1011.1 L577.6,1010.2 L579.0,1009.1 L580.3,1009.0 L581.6,1008.6 L583.0,1009.3 L584.3,1009.6 L585.7,1009.2 L587.0,1008.8 L588.3,1009.2 L589.7,1009.6 L591.0,1009.9 L592.4,1010.0 L593.7,1011.3 L595.0,1010.6 L596.4,1011.2 L597.7,1008.9 L599.1,1009.6 L600.4,1008.1 L601.7,1007.8 L603.1,1008.1 L604.4,1008.7 L605.7,1007.5 L607.1,1006.4 L608.4,1006.2 L609.8,1006.6 L611.1,1005.9 L612.4,1006.3 L613.8,1007.0 L615.1,1006.1 L616.5,1007.1 L617.8,1007.9 L619.1,1009.1 L620.5,1008.1 L621.8,1008.0 L623.2,1007.5 L624.5,1007.8 L625.8,1008.3 L627.2,1009.2 L628.5,1009.7 L629.9,1009.0 L631.2,1008.6 L632.5,1008.3 L633.9,1008.0 L635.2,1008.8 L636.6,1008.7 L637.9,1006.9 L639.2,1006.4 L640.6,1005.1 L641.9,1005.5 L643.3,1005.4 L644.6,1005.5 L645.9,1006.0 L647.3,1006.5 L648.6,1006.7 L649.9,1008.5 L651.3,1008.7 L652.6,1008.1 L654.0,1006.3 L655.3,1005.1 L656.6,1005.2 L658.0,1004.8 L659.3,1005.9 L660.7,1007.6 L662.0,1008.3 L663.3,1009.4 L664.7,1008.4 L666.0,1009.5 L667.4,1008.4 L668.7,1008.5 L670.0,1008.8 L671.4,1008.9 L672.7,1008.7 L674.1,1009.0 L675.4,1009.2 L676.7,1008.9 L678.1,1008.1 L679.4,1007.6 L680.8,1006.6 L682.1,1006.6 L683.4,1005.2 L684.8,1004.6 L686.1,1004.5 L687.5,1004.3 L688.8,1002.5 L690.1,1003.0 L691.5,1002.8 L692.8,1002.9 L694.1,1002.6 L695.5,1001.8 L696.8,1001.5 L698.2,1000.6 L699.5,1000.8 L700.8,1001.1 L702.2,1000.1 L703.5,1001.1 L704.9,1001.2 L706.2,1000.9 L707.5,1000.2 L708.9,1000.2 L710.2,1000.1 L711.6,999.5 L712.9,999.2 L714.2,999.5 L715.6,998.2 L716.9,999.3 L718.3,999.0 L719.6,1001.2 L720.9,1000.7 L722.3,1000.9 L723.6,1000.5 L725.0,1000.1 L726.3,999.2 L727.6,998.1 L729.0,997.9 L730.3,996.9 L731.7,995.9 L733.0,995.7 L734.3,994.9 L735.7,994.3 L737.0,994.4 L738.3,994.0 L739.7,993.8 L741.0,992.6 L742.4,991.9 L743.7,992.6 L745.0,991.4 L746.4,992.5 L747.7,992.5 L749.1,993.2 L750.4,992.4 L751.7,992.2 L753.1,992.4 L754.4,992.1 L755.8,992.1 L757.1,992.6 L758.4,992.8 L759.8,992.8 L761.1,991.7 L762.5,991.9 L763.8,990.6 L765.1,991.5 L766.5,991.2 L767.8,991.6 L769.2,991.4 L770.5,993.3 L771.8,993.3 L773.2,994.2 L774.5,993.9 L775.9,993.7 L777.2,993.9 L778.5,992.0 L779.9,991.1 L781.2,991.6 L782.6,992.1 L783.9,991.7 L785.2,990.1 L786.6,989.3 L787.9,987.7 L789.2,987.7 L790.6,986.9 L791.9,985.5 L793.3,985.1 L794.6,983.7 L795.9,983.2 L797.3,983.0 L798.6,984.8 L800.0,986.3 L801.3,985.8 L802.6,984.8 L804.0,984.8 L805.3,984.6 L806.7,984.4 L808.0,984.6 L809.3,984.0 L810.7,984.4 L812.0,984.5 L813.4,984.2 L814.7,983.0 L816.0,983.7 L817.4,985.1 L818.7,985.0 L820.1,986.0 L821.4,988.5 L822.7,983.7 L824.1,980.9 L825.4,977.9 L826.8,976.6 L828.1,976.4 L829.4,974.2 L830.8,973.8 L832.1,972.7 L833.4,972.4 L834.8,970.5 L836.1,970.1 L837.5,969.7 L838.8,970.1 L840.1,969.0 L841.5,971.1 L842.8,973.2 L844.2,971.9 L845.5,973.3 L846.8,973.3 L848.2,972.8 L849.5,971.8 L850.9,969.1 L852.2,968.2 L853.5,968.0 L854.9,970.0 L856.2,971.1 L857.6,973.7 L858.9,974.3 L860.2,973.6 L861.6,971.4 L862.9,970.5 L864.3,970.7 L865.6,971.6 L866.9,972.6 L868.3,972.3 L869.6,973.4 L871.0,974.2 L872.3,972.1 L873.6,970.1 L875.0,967.9 L876.3,965.8 L877.6,963.2 L879.0,962.5 L880.3,962.8 L881.7,962.4 L883.0,961.2 L884.3,959.2 L885.7,957.8 L887.0,956.9 L888.4,956.9 L889.7,955.8 L891.0,955.6 L892.4,954.9 L893.7,955.8 L895.1,955.8 L896.4,955.2 L897.7,956.4 L899.1,957.1 L900.4,956.7 L901.8,957.7 L902.9,956.1 L904.0,953.8 L905.2,951.3 L906.3,950.4 L907.5,954.1 L908.8,957.3 L910.0,958.4 L911.3,962.6 L912.7,963.5 L914.0,965.0 L915.4,967.4 L916.7,969.3 L917.9,970.5 L919.0,971.2 L920.2,972.8 L921.8,965.9 L923.4,961.8 L924.7,959.7 L926.1,957.2 L927.4,955.4 L928.8,955.6 L930.1,955.2 L931.4,954.4 L932.8,953.6 L934.1,950.5 L935.4,948.1 L936.8,944.8 L938.1,946.3 L939.5,946.2 L940.8,946.3 L942.1,947.7 L943.5,948.5 L944.8,949.4 L946.2,949.4 L947.5,949.5 L948.8,949.0 L950.2,947.2 L951.5,946.6 L952.9,945.2 L954.2,943.7 L955.5,941.1 L956.9,938.5 L958.2,939.5 L959.6,939.7 L960.9,940.0 L962.2,941.0 L963.6,940.4 L964.9,941.2 L966.3,938.8 L967.6,937.4 L968.9,937.3 L970.5,935.8 L972.1,935.6 L973.3,937.8 L974.5,939.8 L975.6,940.7 L977.0,940.6 L978.3,940.8 L979.6,940.9 L981.0,938.1 L982.3,938.4 L983.7,939.0 L985.0,937.5 L986.3,939.2 L987.7,940.7 L989.0,940.6 L990.4,939.6 L991.7,936.7 L993.0,933.3 L994.4,931.4 L995.7,928.7 L997.1,928.1 L998.4,926.0 L999.7,924.4 L1001.1,921.3 L1002.4,919.0 L1003.8,917.8 L1005.1,918.8 L1006.4,922.9 L1007.8,924.3 L1009.1,923.5 L1010.5,924.1 L1011.8,925.0 L1013.1,926.0 L1014.5,923.1 L1015.8,920.4 L1017.0,918.3 L1018.1,916.2 L1019.3,914.2 L1020.9,919.2 L1022.5,925.6 L1023.8,925.0 L1025.2,924.3 L1026.5,924.3 L1027.9,924.4 L1029.2,926.8 L1030.5,930.1 L1031.9,925.9 L1033.2,923.1 L1034.6,920.1 L1035.9,919.3 L1037.2,920.7 L1038.6,919.9 L1039.9,920.3 L1041.3,922.3 L1042.6,925.9 L1043.9,923.8 L1045.3,921.3 L1046.6,920.8 L1048.0,920.1 L1049.3,921.6 L1050.6,924.9 L1052.0,926.9 L1053.3,929.0 L1054.7,932.0 L1056.0,935.2 L1057.3,934.3 L1058.7,934.7 L1060.0,934.7 L1061.4,937.0 L1062.7,939.9 L1064.0,939.4 L1065.4,940.6 L1066.7,940.1 L1068.0,939.6 L1069.4,940.1 L1070.7,940.0 L1072.1,940.2 L1073.4,939.0 L1074.7,939.8 L1076.1,939.6 L1077.4,942.0 L1078.8,943.7 L1080.1,945.8 L1081.4,948.7 L1082.8,954.3 L1084.1,958.3 L1085.5,958.7 L1086.8,958.2 L1088.1,957.8 L1089.5,953.8 L1090.8,949.1 L1092.2,948.3 L1093.5,948.6 L1094.8,947.3 L1096.2,949.4 L1097.5,950.4 L1098.9,952.4 L1100.2,953.9 L1101.5,955.6 L1102.9,957.1 L1104.2,957.7 L1105.6,959.8 L1106.9,960.2 L1108.2,960.5 L1109.6,960.1 L1110.9,958.3 L1112.3,959.0 L1113.6,958.3 L1114.9,959.2 L1116.3,965.2 L1117.6,971.8 L1119.5,981.4 L1120.6,978.0 L1121.8,973.0 L1123.0,967.7 L1124.3,967.7 L1125.6,967.8 L1127.0,967.0 L1128.3,966.1 L1129.7,964.0 L1131.0,962.9 L1132.3,962.9 L1133.7,962.1 L1135.0,963.6 L1136.4,963.5 L1137.7,963.9 L1139.0,966.3 L1140.4,966.5 L1141.7,967.6 L1143.1,968.2 L1144.4,969.4 L1145.7,969.9 L1147.1,969.9 L1148.4,970.3 L1149.8,966.8 L1151.1,963.5 L1152.4,964.9 L1153.8,966.5 L1155.1,966.9 L1156.5,966.6 L1157.8,967.5 L1159.1,966.7 L1160.5,965.4 L1161.8,965.9 L1163.1,964.8 L1164.5,967.7 L1165.8,969.1 L1167.2,971.9 L1168.5,973.3 L1169.8,975.6 L1171.2,978.2 L1172.5,978.4 L1173.9,983.3 L1175.2,986.0 L1176.5,988.6 L1177.9,987.1 L1179.2,985.8 L1180.6,983.6 L1181.9,983.8 L1183.2,985.8 L1184.6,988.4 L1185.7,989.3 L1186.9,991.1 L1188.0,991.8 L1189.1,994.8 L1190.3,992.9 L1191.5,991.7 L1192.6,989.0 L1194.0,987.6 L1195.3,986.9 L1196.6,986.6 L1198.0,985.3 L1199.3,985.8 L1200.7,986.8 L1202.0,987.6 L1203.3,987.8 L1204.7,987.5 L1206.0,985.5 L1207.3,988.7 L1208.7,989.7 L1210.0,992.1 L1211.4,992.1 L1212.7,993.3 L1214.0,994.0 L1215.4,993.4 L1216.7,993.0 L1218.1,991.5 L1219.4,991.3 L1220.7,991.3 L1222.1,989.5 L1223.4,988.7 L1224.8,985.9 L1226.1,985.7 L1227.4,983.9 L1228.8,982.5 L1230.1,982.0 L1231.5,981.2 L1232.8,980.0 L1234.1,977.9 L1235.5,976.5 L1236.8,976.7 L1238.2,977.5 L1239.5,977.2 L1240.8,978.2 L1242.2,977.2 L1243.5,977.4 L1244.9,977.0 L1246.2,976.5 L1247.5,977.0 L1248.9,975.3 L1250.2,973.2 L1251.5,973.5 L1252.9,973.3 L1254.2,971.5 L1255.6,971.1 L1256.9,970.0 L1258.2,970.1 L1259.6,970.7 L1260.9,970.2 L1262.3,969.1 L1263.6,968.8 L1264.9,965.8 L1266.3,966.0 L1267.6,966.0 L1269.0,964.4 L1270.3,962.4 L1271.6,960.3 L1273.0,959.1 L1274.3,958.7 L1275.7,957.5 L1277.0,957.5 L1278.3,955.0 L1279.7,954.6 L1281.0,955.3 L1282.4,955.8 L1283.7,956.0 L1285.0,955.3 L1286.4,957.0 L1287.7,957.5 L1289.1,955.7 L1290.4,954.8 L1291.7,955.8 L1293.1,957.4 L1294.4,960.1 L1295.7,960.7 L1297.1,964.5 L1298.4,962.5 L1299.8,960.9 L1301.1,960.9 L1302.4,960.5 L1303.8,959.1 L1305.1,959.0 L1306.5,958.9 L1307.8,959.3 L1309.1,961.4 L1310.5,962.3 L1311.8,963.7 L1313.2,963.8 L1314.5,966.5 L1315.8,964.4 L1317.2,962.7 L1318.5,960.8 L1319.9,961.0 L1321.2,960.1 L1322.5,960.0 L1323.9,961.0 L1325.2,960.2 L1326.6,958.3 L1327.9,956.1 L1329.2,952.7 L1330.6,951.0 L1331.9,949.9 L1333.3,948.7 L1334.6,948.1 L1335.9,948.4 L1337.3,947.5 L1338.6,947.5 L1339.9,949.2 L1341.3,949.9 L1342.6,949.9 L1344.0,948.3 L1345.3,947.5 L1346.6,947.3 L1348.0,944.5 L1349.3,943.0 L1350.7,943.6 L1352.0,944.6 L1353.3,944.4 L1354.7,946.5 L1356.0,948.6 L1357.4,949.5 L1358.7,950.5 L1360.0,950.5 L1361.4,951.0 L1362.7,951.5 L1364.1,951.1 L1365.4,950.7 L1366.7,949.6 L1368.1,948.1 L1369.4,947.2 L1370.8,946.8 L1372.1,945.0 L1373.4,943.8 L1374.8,943.3 L1376.1,943.9 L1377.5,942.2 L1378.8,939.9 L1380.1,939.7 L1381.5,941.0 L1382.8,939.8 L1384.1,938.0 L1385.5,937.6 L1386.8,938.7 L1388.2,939.8 L1389.5,942.2 L1390.8,944.3 L1392.2,944.6 L1393.5,946.2 L1394.9,944.4 L1396.2,942.1 L1397.5,941.7 L1398.9,939.3 L1400.2,937.8 L1401.6,936.6 L1402.9,935.1 L1404.2,935.2 L1405.6,934.0 L1406.9,933.7 L1408.3,931.7 L1409.6,931.8 L1410.9,932.5 L1412.3,931.7 L1413.6,931.3 L1415.0,930.5 L1416.3,929.9 L1417.6,930.1 L1419.0,928.7 L1420.3,928.4 L1421.7,927.6 L1423.0,925.9 L1424.3,925.4 L1425.7,923.3 L1427.0,922.5 L1428.3,921.6 L1429.7,920.6 L1431.0,923.3 L1432.4,925.7 L1433.7,928.6 L1435.0,928.9 L1436.4,929.1 L1437.7,930.1 L1439.1,931.7 L1440.4,930.1 L1441.7,929.6 L1443.1,929.3 L1444.4,930.5 L1445.8,927.4 L1447.1,925.7 L1448.4,924.8 L1449.8,923.4 L1451.1,922.8 L1452.5,923.3 L1453.8,923.2 L1455.1,919.9 L1456.5,919.4 L1457.8,916.7 L1459.2,917.9 L1460.5,915.6 L1461.8,915.2 L1463.2,913.5 L1464.5,914.4 L1465.9,912.7 L1467.2,911.3 L1468.5,911.2 L1469.9,910.8 L1471.2,910.0 L1472.6,909.2 L1473.9,909.3 L1475.2,908.9 L1476.6,908.8 L1477.9,908.8 L1479.2,907.4 L1480.6,906.5 L1481.9,906.1 L1483.3,907.9 L1484.6,909.9 L1485.9,911.5 L1487.3,910.0 L1488.6,906.5 L1490.0,905.2 L1491.3,904.2 L1492.6,902.4 L1494.0,900.2 L1495.3,899.7 L1496.7,897.8 L1498.0,896.8 L1499.3,895.8 L1500.7,895.7 L1502.0,894.5 L1503.4,894.4 L1504.7,894.3 L1506.0,894.2 L1507.4,893.8 L1508.7,892.0 L1510.1,897.4 L1511.4,899.7 L1512.7,903.7 L1514.3,907.9 L1515.9,909.3 L1517.1,906.4 L1518.3,905.1 L1519.4,902.5 L1520.8,899.8 L1522.1,896.5 L1523.4,893.0 L1524.8,892.1 L1526.1,890.4 L1527.5,893.1 L1528.8,895.4 L1530.1,897.1 L1531.5,897.8 L1532.8,895.7 L1534.2,896.9 L1535.5,894.4 L1536.8,898.1 L1538.2,900.5 L1539.5,903.2 L1540.9,903.1 L1542.2,908.4 L1543.5,912.4 L1544.9,915.1 L1546.2,915.6 L1547.6,917.0 L1548.9,916.0 L1550.2,917.5 L1551.6,917.8 L1552.9,918.8 L1554.3,917.9 L1555.6,917.7 L1556.9,913.8 L1558.3,911.0 L1559.6,909.5 L1561.0,908.7 L1562.2,906.7 L1563.4,906.5 L1564.6,905.3 L1565.8,903.3 L1566.9,906.7 L1568.0,906.1 L1569.2,907.8 L1570.3,909.8 L1571.7,914.5 L1573.0,918.7 L1574.3,920.7 L1575.7,924.1 L1577.0,926.0 L1578.4,926.0 L1580.0,925.5 L1581.2,927.7 L1582.3,927.6 L1583.5,927.4 L1584.7,926.6 L1585.9,930.9 L1587.0,933.0 L1588.2,934.4 L1589.7,937.8 L1591.2,941.6 L1592.9,974.5 L1594.1,977.3 L1595.2,978.6 L1596.4,979.5 L1597.6,974.4 L1598.7,969.8 L1599.9,978.8 L1601.1,988.5 L1602.2,987.5 L1603.4,984.2 L1604.6,979.6 L1605.8,978.6 L1606.9,976.1 L1608.1,972.1 L1609.3,977.9 L1610.4,982.3 L1611.6,985.0 L1612.8,985.4 L1614.0,984.0 L1615.1,980.7 L1616.3,987.6 L1617.5,991.7 L1618.9,996.2 L1620.3,999.7 L1621.8,994.4 L1623.3,986.7 L1624.5,985.2 L1625.7,984.5 L1626.8,980.5 L1628.0,978.2 L1629.2,975.1 L1630.4,971.7 L1631.5,971.4 L1632.7,970.5 L1633.9,970.3 L1635.0,968.2 L1636.2,967.7 L1637.4,967.8 L1638.5,966.7 L1639.7,968.8 L1640.9,970.0 L1642.1,970.7 L1643.2,972.7 L1644.4,966.5 L1645.6,962.0 L1646.7,956.8 L1647.9,956.0 L1649.1,954.8 L1650.3,952.9 L1651.4,953.5 L1652.6,951.8 L1653.8,954.0 L1654.9,950.5 L1656.1,949.6 L1657.3,949.6 L1658.5,950.9 L1659.6,952.1 L1660.8,950.4 L1662.0,947.5 L1663.1,946.7 L1664.3,945.6 L1665.5,947.1 L1666.7,946.8 L1667.8,947.5 L1669.0,947.0 L1670.2,946.8 L1671.3,946.9 L1672.5,945.2 L1673.7,944.3 L1674.8,943.3 L1676.0,942.3 L1677.2,941.4 L1678.4,943.6 L1679.5,946.3 L1680.7,949.1 L1681.9,954.7 L1683.0,953.6 L1684.2,951.0 L1685.4,949.1 L1686.6,945.4 L1687.7,942.3 L1688.9,940.1 L1690.1,939.6 L1691.2,940.4 L1692.4,939.7 L1693.6,938.6 L1694.8,939.0 L1695.9,942.5 L1697.1,947.8 L1698.3,949.1 L1699.4,951.5 L1700.6,953.6 L1701.8,957.2 L1703.0,953.2 L1704.1,951.5 L1705.3,950.9 L1706.6,953.7 L1707.9,958.6 L1709.3,960.4 L1710.6,957.3 L1712.0,953.2 L1713.3,950.0 L1714.7,947.4 L1715.8,949.9 L1717.0,953.2 L1718.2,954.8 L1719.3,952.2 L1720.5,950.4 L1721.7,949.0 L1722.9,947.3 L1724.3,945.8 L1725.7,945.2 L1727.1,942.0 L1728.5,940.4 L1729.9,938.7 L1731.1,938.0 L1732.2,938.8 L1733.4,939.2 L1734.6,938.7 L1735.7,940.5 L1736.9,939.5 L1738.1,937.9 L1739.3,937.2 L1740.4,936.5 L1741.6,935.2 L1742.8,934.8 L1743.9,933.7 L1745.1,931.4 L1746.3,930.0 L1747.4,928.3 L1748.6,924.4 L1749.8,924.7 L1751.0,922.9 L1752.1,924.3 L1753.3,925.5 L1754.5,928.5 L1755.6,931.9 L1756.8,929.2 L1758.0,927.4 L1759.2,925.3 L1760.3,924.6 L1761.5,922.5 L1762.7,921.2 L1763.8,921.5 L1765.0,922.4 L1766.2,924.2 L1767.4,926.1 L1768.5,928.1 L1769.7,930.0 L1770.9,931.1 L1772.0,932.0 L1773.2,932.4 L1774.4,933.5 L1775.6,931.8 L1776.7,929.9 L1777.9,927.5 L1779.1,925.0 L1780.5,930.5 L1781.9,938.9 L1783.4,945.0 L1784.9,951.2 L1786.1,949.0 L1787.3,947.8 L1788.4,947.4 L1789.6,950.0 L1790.8,954.4 L1791.9,951.2 L1793.1,948.0 L1794.3,945.7 L1795.5,940.3 L1796.6,935.7 L1797.8,939.3 L1799.0,943.1 L1800.1,948.5 L1801.3,953.5 L1802.5,950.1 L1803.7,948.3 L1804.8,944.4 L1806.0,944.6 L1807.2,946.2 L1808.3,946.6 L1809.5,945.1 L1810.7,943.2 L1811.9,940.4 L1813.0,937.7 L1814.2,936.6 L1815.4,935.5 L1816.5,932.9 L1817.7,932.4 L1818.9,930.3 L1820.0,929.1 L1821.2,928.8 L1822.4,928.7 L1823.6,927.6 L1824.7,926.5 L1825.9,927.9 L1827.1,928.0 L1828.2,929.4 L1829.4,930.3 L1830.6,932.0 L1831.8,934.5 L1832.9,938.3 L1834.3,939.7 L1835.7,943.0 L1837.1,946.9 L1838.4,943.2 L1839.7,941.8 L1841.0,938.7 L1842.3,938.7 L1843.7,937.4 L1845.1,938.0 L1846.5,937.6 L1847.9,936.8 L1849.3,935.2 L1850.7,933.7 L1852.1,930.7 L1853.5,930.0 L1854.9,928.3 L1856.3,925.6 L1857.8,926.0 L1859.2,928.1 L1860.6,929.3 L1862.0,929.1 L1863.4,930.3 L1864.5,933.4 L1865.7,934.4 L1866.9,935.9 L1868.1,936.3 L1869.2,934.4 L1870.4,933.4 L1871.6,933.8 L1872.7,929.9 L1873.9,929.4 L1875.1,928.1 L1876.3,926.0 L1877.4,923.7 L1878.6,923.6 L1879.8,921.0 L1880.9,918.5 L1882.1,917.1 L1883.3,918.0 L1884.4,918.4 L1885.6,919.5 L1886.8,918.4 L1888.0,917.9 L1889.1,916.4 L1890.3,915.5 L1891.5,914.8 L1892.6,913.5 L1893.8,913.1 L1895.0,912.3 L1896.2,912.8 L1897.3,913.1 L1898.7,909.9 L1900.0,908.0 L1901.3,906.1 L1902.8,908.2 L1904.4,909.9 L1905.5,912.7 L1906.7,915.2 L1907.9,917.0 L1909.0,913.7 L1910.2,910.2 L1911.4,907.3 L1912.6,905.0 L1913.7,905.6 L1914.9,904.8 L1916.1,904.8 L1917.2,907.4 L1918.4,907.9 L1919.6,907.9 L1920.7,911.0 L1921.9,906.0 L1923.1,903.9 L1924.3,901.9 L1925.4,901.2 L1926.6,900.1 L1927.8,898.9 L1928.9,898.2 L1930.1,897.2 L1931.3,896.0 L1932.5,895.1 L1933.6,895.5 L1934.8,894.2 L1936.0,893.8 L1937.1,893.0 L1938.3,892.6 L1939.5,891.8 L1940.7,892.0 L1941.8,893.4 L1943.0,892.1 L1944.2,890.7 L1945.3,890.2 L1946.5,892.2 L1947.7,894.9 L1948.9,897.4 L1950.0,895.5 L1951.2,891.2 L1952.4,889.4 L1953.5,888.6 L1954.7,888.1 L1955.9,889.4 L1957.0,888.1 L1958.2,889.1 L1959.4,891.4 L1960.6,892.0 L1961.7,893.1 L1962.9,892.1 L1964.1,890.6 L1965.2,888.7 L1966.4,887.9 L1967.6,886.5 L1968.8,885.0 L1969.9,883.9 L1971.1,883.4 L1972.3,882.3 L1973.4,881.6 L1974.6,880.2 L1975.8,880.0 L1977.0,877.9 L1978.1,878.2 L1979.3,879.8 L1980.5,880.4 L1981.6,882.7 L1982.8,884.3 L1984.0,884.4 L1985.2,884.3 L1986.3,883.8 L1987.5,882.7 L1988.7,880.9 L1989.8,882.0 L1991.0,882.8 L1992.2,884.3 L1993.3,887.4 L1994.5,893.4 L1995.7,895.1 L1996.9,892.6 L1998.0,888.5 L1999.2,884.5 L2000.4,884.8 L2001.5,884.2 L2002.7,882.7 L2003.9,882.6 L2005.1,882.0 L2006.2,882.4 L2007.4,884.8 L2008.6,887.2 L2009.7,885.4 L2010.9,885.6 L2012.1,885.4 L2013.3,885.3 L2014.4,887.4 L2015.6,888.2 L2016.8,888.1 L2017.9,885.3 L2019.1,882.0 L2020.3,878.0 L2021.5,876.0 L2022.6,875.2 L2023.8,877.1 L2025.0,876.9 L2026.1,877.1 L2027.3,875.7 L2028.5,876.1 L2029.6,875.5 L2030.8,875.5 L2032.0,876.3 L2033.2,876.9 L2034.3,876.1 L2035.5,874.6 L2036.7,875.9 L2037.8,876.4 L2039.0,875.8 L2040.2,877.0 L2041.4,876.2 L2042.5,876.3 L2043.7,877.8 L2044.9,878.5 L2046.0,879.0 L2047.2,879.1 L2048.4,878.1 L2049.6,881.5 L2050.7,882.5 L2051.9,883.9 L2053.1,889.0 L2054.2,893.0 L2055.4,897.8 L2056.6,899.9 L2057.8,898.6 L2058.9,899.7 L2060.1,898.3 L2061.3,895.6 L2062.4,892.4 L2063.6,888.5 L2064.8,888.7 L2065.9,887.6 L2067.1,885.8 L2068.3,885.5 L2069.5,886.4 L2070.6,887.3 L2071.8,887.3 L2073.0,889.4 L2074.1,889.0 L2075.3,889.3 L2076.5,895.6 L2077.7,902.1 L2078.8,907.1 L2080.0,908.4 L2081.2,908.7 L2082.3,910.6 L2083.5,908.9 L2084.7,909.1 L2085.9,906.4 L2087.0,901.5 L2088.2,895.0 L2089.4,893.9 L2090.5,891.7 L2091.7,890.2 L2092.9,889.9 L2094.1,890.3 L2095.2,889.9 L2096.4,889.7 L2097.6,888.6 L2098.7,890.2 L2099.9,890.0 L2101.1,890.4 L2102.2,890.5 L2103.4,889.9 L2104.6,889.1 L2105.8,888.9 L2106.9,889.9 L2108.1,891.8 L2109.3,895.4 L2110.4,891.0 L2111.6,887.8 L2112.8,885.6 L2114.0,885.1 L2115.1,884.4 L2116.3,882.7 L2117.5,881.4 L2118.6,881.7 L2119.8,880.7 L2121.0,881.3 L2122.2,880.7 L2123.3,881.7 L2124.5,881.7 L2125.7,883.1 L2126.8,883.2 L2128.0,883.5 L2129.2,884.3 L2130.4,885.7 L2131.5,888.5 L2132.7,889.5 L2133.9,890.3 L2135.0,888.1 L2136.2,886.4 L2137.4,884.5 L2138.5,882.4 L2139.7,880.5 L2140.9,881.3 L2142.1,881.2 L2143.2,878.2 L2144.4,878.9 L2145.6,879.7 L2146.7,880.1 L2147.9,876.9 L2149.1,875.2 L2150.3,872.4 L2151.4,871.2 L2152.6,870.4 L2153.8,870.7 L2154.9,868.8 L2156.1,869.3 L2157.3,868.5 L2158.5,869.0 L2159.6,869.5 L2160.8,870.6 L2162.0,870.2 L2163.1,869.6 L2164.3,868.1 L2165.5,867.4 L2166.7,864.1 L2167.8,863.5 L2169.0,862.1 L2170.2,861.9 L2171.3,859.7 L2172.5,858.2 L2173.7,858.0 L2174.9,858.5 L2176.2,857.9 L2177.5,859.1 L2178.7,859.3 L2180.0,861.0 L2181.4,859.0 L2182.9,857.5 L2184.0,857.4 L2185.2,858.8 L2186.4,858.2 L2187.5,857.7 L2188.7,858.3 L2189.9,856.8 L2191.1,855.8 L2192.2,853.1 L2193.4,852.5 L2194.6,849.4 L2195.7,848.5 L2196.9,847.0 L2198.1,846.1 L2199.3,844.3 L2200.4,845.7 L2201.6,846.2 L2202.8,845.2 L2203.9,846.9 L2205.1,845.2 L2206.3,843.9 L2207.4,843.0 L2208.6,841.8 L2209.8,837.8 L2211.0,835.3 L2212.1,834.3 L2213.3,832.8 L2214.5,828.5 L2215.6,826.6 L2216.8,823.5 L2218.0,830.9 L2219.2,837.7 L2220.3,841.6 L2221.5,844.4 L2222.7,839.0 L2223.8,834.7 L2225.4,839.8 L2226.9,846.7 L2228.2,843.2 L2229.5,842.3 L2230.9,839.7 L2232.0,838.8 L2233.2,839.2 L2234.4,839.3 L2235.6,838.7 L2236.7,837.3 L2237.9,836.1 L2239.1,834.6 L2240.2,836.0 L2241.4,837.3 L2242.6,839.5 L2243.7,840.5 L2244.9,840.5 L2246.1,840.4 L2247.3,839.6 L2248.4,837.9 L2249.6,835.8 L2250.8,838.0 L2251.9,836.1 L2253.1,834.9 L2254.3,834.8 L2255.5,834.1 L2256.6,834.1 L2257.8,832.7 L2259.0,832.2 L2260.1,830.7 L2261.3,834.3 L2262.5,836.9 L2263.7,839.9 L2264.8,845.8 L2266.0,852.0 L2267.2,852.2 L2268.3,848.6 L2269.5,847.2 L2270.7,844.8 L2271.9,849.0 L2273.0,852.6 L2274.2,854.7 L2275.4,864.4 L2276.5,870.8 L2277.7,866.8 L2278.9,865.0 L2280.0,861.6 L2281.2,857.7 L2282.4,854.6 L2283.6,849.9 L2284.7,847.2 L2285.9,846.4 L2287.1,844.4 L2288.2,844.4 L2289.4,843.2 L2290.6,842.1 L2291.8,841.5 L2292.9,838.7 L2294.1,837.9 L2295.3,836.0 L2296.4,833.1 L2297.6,834.0 L2298.8,834.2 L2300.0,832.3 L2301.1,833.7 L2302.3,833.8 L2303.5,834.6 L2304.6,838.4 L2305.8,843.4 L2307.0,846.7 L2308.1,841.9 L2309.3,837.0 L2310.5,832.6 L2311.7,831.2 L2312.8,831.2 L2314.0,828.5 L2315.2,829.0 L2316.3,829.2 L2317.5,827.5 L2318.7,831.7 L2319.9,834.3 L2321.0,839.0 L2322.2,842.2 L2323.4,837.5 L2324.5,833.3 L2325.7,829.0 L2326.9,829.0 L2328.1,830.3 L2329.2,832.8 L2330.4,834.0 L2331.6,831.1 L2332.7,826.7 L2333.9,822.2 L2335.1,821.0 L2336.3,819.4 L2337.4,817.2 L2338.6,816.2 L2339.8,816.2 L2340.9,813.2 L2342.1,811.4 L2343.3,810.6 L2344.4,809.9 L2345.6,807.7 L2346.8,806.7 L2348.0,804.9 L2349.1,808.2 L2350.3,811.7 L2351.5,808.5 L2352.6,805.8 L2353.8,803.5 L2355.0,808.5 L2356.2,814.3 L2358.0,850.2 L2359.7,877.9 L2361.3,892.0 L2363.2,859.3 L2364.4,857.0 L2365.5,852.1 L2366.7,850.5 L2367.9,849.4 L2369.0,847.8 L2370.2,845.2 L2371.4,847.6 L2372.6,849.7 L2373.7,836.6 L2374.9,821.5 L2376.1,826.3 L2377.2,831.6 L2378.4,833.1 L2379.6,829.2 L2380.7,823.5 L2381.9,820.1 L2383.1,817.8 L2384.3,816.3 L2385.4,812.7 L2386.6,809.0 L2387.8,804.3 L2388.9,801.2 L2390.1,799.4 L2391.3,802.1 L2392.5,805.2 L2393.6,811.5 L2394.8,808.2 L2396.0,806.0 L2397.1,804.2 L2398.3,805.6 L2399.5,809.0 L2400.7,813.0 L2401.8,818.6 L2403.0,794.9 L2404.2,788.6 L2405.3,785.8 L2406.5,781.2 L2407.7,779.8 L2408.9,778.6 L2410.0,776.0 L2411.2,774.3 L2412.4,770.5 L2413.5,767.9 L2415.1,766.3 L2416.6,765.0 L2417.8,772.0 L2418.9,777.5 L2420.3,766.8 L2421.7,759.2 L2422.9,759.6 L2424.1,762.7 L2425.2,766.3 L2426.4,762.9 L2427.6,759.1 L2428.8,756.2 L2429.9,751.0 L2431.1,746.2 L2432.3,743.5 L2433.4,742.3 L2434.6,740.9 L2435.8,740.2 L2437.0,739.6 L2438.1,738.9 L2439.3,736.5 L2440.5,736.8 L2441.6,737.0 L2442.8,737.0 L2444.0,736.9 L2445.2,734.6 L2446.3,734.2 L2447.5,734.0 L2448.7,730.7 L2449.8,728.3 L2451.0,728.1 L2452.2,725.8 L2453.3,726.0 L2454.5,724.3 L2455.7,721.9 L2456.9,721.6 L2458.0,720.8 L2459.2,722.8 L2460.4,723.3 L2461.5,725.6 L2462.7,730.3 L2463.9,735.6 L2465.1,729.4 L2466.2,724.1 L2467.4,720.4 L2468.9,715.3 L2470.4,712.1 L2471.9,712.2 L2473.3,712.8 L2475.1,728.1 L2476.5,723.8 L2477.9,719.7 L2479.1,714.1 L2480.3,711.5 L2481.5,715.9 L2482.6,721.3 L2484.5,732.1 L2485.8,731.4 L2487.2,730.1 L2488.5,732.5 L2489.6,735.1 L2490.8,740.7 L2492.0,747.3 L2493.2,756.3 L2494.3,743.6 L2495.5,733.3 L2496.7,737.4 L2497.8,741.7 L2499.0,750.5 L2500.2,758.5 L2501.4,765.2 L2502.5,769.6 L2503.7,765.5 L2504.9,763.0 L2506.0,762.9 L2507.2,762.3 L2508.4,760.8 L2509.6,764.4 L2510.7,767.3 L2511.9,771.5 L2513.1,777.1 L2514.2,781.6 L2515.4,782.4 L2516.6,781.7 L2517.8,780.2 L2518.9,772.3 L2520.1,760.8 L2522.0,757.7 L2523.4,767.7 L2524.8,775.4 L2525.9,776.0 L2527.1,773.8 L2528.3,783.9 L2529.5,792.0 L2530.6,793.1 L2531.8,794.5 L2533.0,797.2 L2534.5,785.0 L2536.0,775.9 L2537.4,777.8 L2538.8,781.6 L2540.0,779.3 L2541.2,775.0 L2542.3,770.4 L2543.5,775.6 L2544.7,780.3 L2545.9,784.1 L2547.0,779.4 L2548.2,774.7 L2549.4,769.3 L2550.5,766.7 L2551.7,763.9 L2552.9,760.5 L2554.1,758.6 L2555.2,762.0 L2556.4,765.1 L2557.6,769.5 L2558.7,773.8 L2559.9,778.3 L2561.1,774.2 L2562.2,770.3 L2563.4,766.9 L2564.6,763.2 L2565.8,762.4 L2566.9,761.2 L2568.1,758.0 L2569.3,757.5 L2570.4,758.0 L2571.9,755.9 L2573.3,755.1 L2574.7,751.8 L2576.1,749.0 L2577.5,745.6 L2578.6,743.5 L2579.8,741.4 L2581.0,740.6 L2582.2,737.1 L2583.3,736.4 L2584.5,733.9 L2585.7,732.9 L2586.8,738.8 L2588.0,743.9 L2589.2,747.0 L2590.4,747.9 L2591.5,745.7 L2592.7,741.9 L2593.9,747.6 L2595.0,751.0 L2596.2,751.6 L2597.4,750.8 L2598.5,748.7 L2599.7,756.2 L2600.9,763.3 L2602.1,770.2 L2603.5,760.1 L2604.9,746.0 L2606.4,741.5 L2607.9,737.3 L2609.1,732.8 L2610.3,727.2 L2611.4,723.5 L2612.6,720.0 L2613.8,719.7 L2614.9,718.5 L2616.1,718.5 L2617.3,715.6 L2618.5,713.7 L2619.6,712.8 L2620.8,709.1 L2622.0,706.3 L2623.1,701.4 L2624.3,699.5 L2625.5,696.6 L2626.7,694.7 L2627.8,692.3 L2629.0,691.3 L2630.2,689.1 L2631.3,690.9 L2632.5,694.0 L2633.7,701.0 L2634.8,708.7 L2636.0,700.7 L2637.2,692.2 L2638.4,691.1 L2639.5,687.7 L2640.7,686.0 L2641.9,685.4 L2643.0,685.8 L2644.2,684.9 L2645.4,683.1 L2646.6,681.0 L2647.7,677.7 L2649.6,666.8 L2651.0,670.3 L2652.4,677.2 L2654.3,688.0 L2655.7,678.1 L2657.1,668.7 L2658.3,672.3 L2659.4,677.1 L2660.6,680.8 L2661.8,671.1 L2663.0,659.8 L2664.1,657.8 L2665.3,656.5 L2666.5,654.4 L2667.6,652.1 L2668.8,651.7 L2670.0,657.1 L2671.1,663.6 L2672.3,657.6 L2673.5,651.5 L2674.7,647.1 L2675.8,643.8 L2677.0,642.0 L2678.2,644.7 L2679.3,649.8 L2680.5,652.9 L2681.7,656.4 L2683.2,659.3 L2684.7,662.2 L2686.1,651.9 L2687.5,640.7 L2688.7,639.4 L2689.9,638.1 L2691.1,643.6 L2692.2,648.2 L2693.4,650.9 L2694.6,657.5 L2695.7,663.8 L2696.9,672.0 L2698.1,682.4 L2699.3,701.2 L2700.4,694.2 L2701.6,685.3 L2702.8,675.2 L2703.9,664.2 L2705.1,657.5 L2706.3,650.8 L2707.4,641.7" stroke="#04427A" stroke-width="6.5"/>
<use href="#tl" stroke="#00B0AA"/>
</g>
<rect x="1730" y="328" width="962" height="737.5" fill="#A6A6A6" fill-opacity="0.5"/>
<g clip-path="url(#bx)"><use href="#tl" stroke="#6DACA6"/></g>
<text y="107" font-size="53" font-weight="bold" stroke="#000" stroke-width="1.1"><tspan x="459.38" textLength="276.38" lengthAdjust="spacingAndGlyphs">Emerging</tspan> <tspan x="750.23" textLength="248.54" lengthAdjust="spacingAndGlyphs">markets:</tspan> <tspan x="1010.36" textLength="290.68" lengthAdjust="spacingAndGlyphs">Long-time</tspan> <tspan x="1317.28" textLength="467.35" lengthAdjust="spacingAndGlyphs">underperformer,</tspan> <tspan x="1797.00" textLength="93.33" lengthAdjust="spacingAndGlyphs">but</tspan> <tspan x="1909.50" textLength="151.46" lengthAdjust="spacingAndGlyphs">we're</tspan> <tspan x="2073.76" textLength="187.89" lengthAdjust="spacingAndGlyphs">seeing</tspan> <tspan x="2277.64" textLength="28.31" lengthAdjust="spacingAndGlyphs">a</tspan> <tspan x="2323.53" textLength="108.86" lengthAdjust="spacingAndGlyphs">blip</tspan></text>
<text y="266.5" font-size="40" font-weight="normal"><tspan x="551.67" textLength="201.32" lengthAdjust="spacingAndGlyphs">Emerging</tspan> <tspan x="763.68" textLength="166.89" lengthAdjust="spacingAndGlyphs">markets</tspan></text>
<text y="266.5" font-size="40" font-weight="normal"><tspan x="1252.15" textLength="217.61" lengthAdjust="spacingAndGlyphs">Developed</tspan> <tspan x="1479.98" textLength="166.89" lengthAdjust="spacingAndGlyphs">markets</tspan></text>
<text y="266.5" font-size="40" font-weight="normal"><tspan x="1967.40" textLength="64.53" lengthAdjust="spacingAndGlyphs">EM</tspan> <tspan x="2043.56" textLength="41.79" lengthAdjust="spacingAndGlyphs">vs</tspan> <tspan x="2096.66" textLength="69.33" lengthAdjust="spacingAndGlyphs">DM</tspan> <tspan x="2177.63" textLength="123.57" lengthAdjust="spacingAndGlyphs">(right)</tspan></text>
<text y="1215.4" font-size="32" font-weight="normal"><tspan x="58.46" textLength="117.88" lengthAdjust="spacingAndGlyphs">Source:</tspan> <tspan x="181.96" textLength="187.57" lengthAdjust="spacingAndGlyphs">Bloomberg,</tspan> <tspan x="374.00" textLength="131.00" lengthAdjust="spacingAndGlyphs">Purpose</tspan> <tspan x="512.09" textLength="195.99" lengthAdjust="spacingAndGlyphs">Investments</tspan></text>
<text y="371" font-size="42" font-weight="bold" stroke="#000" stroke-width="0.7"><tspan x="2020.10" textLength="150.72" lengthAdjust="spacingAndGlyphs">Tough</tspan> <tspan x="2180.07" textLength="188.76" lengthAdjust="spacingAndGlyphs">decade+</tspan> <tspan x="2384.10" textLength="72.00" lengthAdjust="spacingAndGlyphs">for</tspan></text>
<text y="425" font-size="42" font-weight="bold" stroke="#000" stroke-width="0.7"><tspan x="2200.11" textLength="73.32" lengthAdjust="spacingAndGlyphs">EM</tspan></text>
<text y="352.3" font-size="42" font-weight="normal"><tspan x="100.14" textLength="95.33" lengthAdjust="spacingAndGlyphs">1600</tspan></text>
<text y="444.55" font-size="42" font-weight="normal"><tspan x="97.04" textLength="98.48" lengthAdjust="spacingAndGlyphs">1400</tspan></text>
<text y="536.8" font-size="42" font-weight="normal"><tspan x="100.99" textLength="93.75" lengthAdjust="spacingAndGlyphs">1200</tspan></text>
<text y="629.05" font-size="42" font-weight="normal"><tspan x="97.04" textLength="98.48" lengthAdjust="spacingAndGlyphs">1000</tspan></text>
<text y="721.3" font-size="42" font-weight="normal"><tspan x="114.37" textLength="80.17" lengthAdjust="spacingAndGlyphs">800</tspan></text>
<text y="813.55" font-size="42" font-weight="normal"><tspan x="115.00" textLength="79.53" lengthAdjust="spacingAndGlyphs">600</tspan></text>
<text y="905.8" font-size="42" font-weight="normal"><tspan x="113.38" textLength="81.17" lengthAdjust="spacingAndGlyphs">400</tspan></text>
<text y="998.05" font-size="42" font-weight="normal"><tspan x="116.83" textLength="79.53" lengthAdjust="spacingAndGlyphs">200</tspan></text>
<text y="1090.3" font-size="42" font-weight="normal"><tspan x="167.12" textLength="27.80" lengthAdjust="spacingAndGlyphs">0</tspan></text>
<text y="352.3" font-size="42" font-weight="normal"><tspan x="2744.05" textLength="61.21" lengthAdjust="spacingAndGlyphs">4.0</tspan></text>
<text y="444.55" font-size="42" font-weight="normal"><tspan x="2743.13" textLength="57.44" lengthAdjust="spacingAndGlyphs">3.5</tspan></text>
<text y="536.8" font-size="42" font-weight="normal"><tspan x="2743.03" textLength="60.30" lengthAdjust="spacingAndGlyphs">3.0</tspan></text>
<text y="629.05" font-size="42" font-weight="normal"><tspan x="2742.99" textLength="56.59" lengthAdjust="spacingAndGlyphs">2.5</tspan></text>
<text y="721.3" font-size="42" font-weight="normal"><tspan x="2742.85" textLength="59.45" lengthAdjust="spacingAndGlyphs">2.0</tspan></text>
<text y="813.55" font-size="42" font-weight="normal"><tspan x="2742.64" textLength="47.90" lengthAdjust="spacingAndGlyphs">1.5</tspan></text>
<text y="905.8" font-size="42" font-weight="normal"><tspan x="2744.16" textLength="48.70" lengthAdjust="spacingAndGlyphs">1.0</tspan></text>
<text y="998.05" font-size="42" font-weight="normal"><tspan x="2742.91" textLength="58.28" lengthAdjust="spacingAndGlyphs">0.5</tspan></text>
<text y="1090.3" font-size="42" font-weight="normal"><tspan x="2742.74" textLength="61.47" lengthAdjust="spacingAndGlyphs">0.0</tspan></text>
<text transform="translate(245.8,1102.44) rotate(-90)" text-anchor="end" font-size="42" textLength="59.59" lengthAdjust="spacingAndGlyphs">'88</text><text transform="translate(312.9,1102.50) rotate(-90)" text-anchor="end" font-size="42" textLength="58.50" lengthAdjust="spacingAndGlyphs">'89</text><text transform="translate(380.0,1104.61) rotate(-90)" text-anchor="end" font-size="42" textLength="57.35" lengthAdjust="spacingAndGlyphs">'90</text><text transform="translate(447.1,1107.52) rotate(-90)" text-anchor="end" font-size="42" textLength="41.58" lengthAdjust="spacingAndGlyphs">'91</text><text transform="translate(514.2,1103.04) rotate(-90)" text-anchor="end" font-size="42" textLength="54.48" lengthAdjust="spacingAndGlyphs">'92</text><text transform="translate(581.2,1102.70) rotate(-90)" text-anchor="end" font-size="42" textLength="54.84" lengthAdjust="spacingAndGlyphs">'93</text><text transform="translate(648.3,1102.22) rotate(-90)" text-anchor="end" font-size="42" textLength="58.78" lengthAdjust="spacingAndGlyphs">'94</text><text transform="translate(715.4,1102.74) rotate(-90)" text-anchor="end" font-size="42" textLength="54.11" lengthAdjust="spacingAndGlyphs">'95</text><text transform="translate(782.5,1103.70) rotate(-90)" text-anchor="end" font-size="42" textLength="54.84" lengthAdjust="spacingAndGlyphs">'96</text><text transform="translate(849.6,1103.70) rotate(-90)" text-anchor="end" font-size="42" textLength="54.84" lengthAdjust="spacingAndGlyphs">'97</text><text transform="translate(916.7,1103.56) rotate(-90)" text-anchor="end" font-size="42" textLength="57.40" lengthAdjust="spacingAndGlyphs">'98</text><text transform="translate(983.8,1103.64) rotate(-90)" text-anchor="end" font-size="42" textLength="55.94" lengthAdjust="spacingAndGlyphs">'99</text><text transform="translate(1050.9,1104.52) rotate(-90)" text-anchor="end" font-size="42" textLength="59.86" lengthAdjust="spacingAndGlyphs">'00</text><text transform="translate(1118.0,1107.47) rotate(-90)" text-anchor="end" font-size="42" textLength="43.01" lengthAdjust="spacingAndGlyphs">'01</text><text transform="translate(1185.1,1102.58) rotate(-90)" text-anchor="end" font-size="42" textLength="57.04" lengthAdjust="spacingAndGlyphs">'02</text><text transform="translate(1252.2,1102.58) rotate(-90)" text-anchor="end" font-size="42" textLength="57.04" lengthAdjust="spacingAndGlyphs">'03</text><text transform="translate(1319.2,1103.93) rotate(-90)" text-anchor="end" font-size="42" textLength="60.47" lengthAdjust="spacingAndGlyphs">'04</text><text transform="translate(1386.3,1102.58) rotate(-90)" text-anchor="end" font-size="42" textLength="57.04" lengthAdjust="spacingAndGlyphs">'05</text><text transform="translate(1453.4,1104.65) rotate(-90)" text-anchor="end" font-size="42" textLength="56.28" lengthAdjust="spacingAndGlyphs">'06</text><text transform="translate(1520.5,1103.60) rotate(-90)" text-anchor="end" font-size="42" textLength="56.67" lengthAdjust="spacingAndGlyphs">'07</text><text transform="translate(1587.6,1103.50) rotate(-90)" text-anchor="end" font-size="42" textLength="58.50" lengthAdjust="spacingAndGlyphs">'08</text><text transform="translate(1654.7,1103.50) rotate(-90)" text-anchor="end" font-size="42" textLength="58.50" lengthAdjust="spacingAndGlyphs">'09</text><text transform="translate(1721.8,1105.04) rotate(-90)" text-anchor="end" font-size="42" textLength="45.52" lengthAdjust="spacingAndGlyphs">'10</text><text transform="translate(1788.9,1107.84) rotate(-90)" text-anchor="end" font-size="42" textLength="30.88" lengthAdjust="spacingAndGlyphs">'11</text><text transform="translate(1856.0,1103.30) rotate(-90)" text-anchor="end" font-size="42" textLength="43.87" lengthAdjust="spacingAndGlyphs">'12</text><text transform="translate(1923.0,1103.30) rotate(-90)" text-anchor="end" font-size="42" textLength="43.87" lengthAdjust="spacingAndGlyphs">'13</text><text transform="translate(1990.1,1104.19) rotate(-90)" text-anchor="end" font-size="42" textLength="46.40" lengthAdjust="spacingAndGlyphs">'14</text><text transform="translate(2057.2,1103.30) rotate(-90)" text-anchor="end" font-size="42" textLength="43.87" lengthAdjust="spacingAndGlyphs">'15</text><text transform="translate(2124.3,1104.05) rotate(-90)" text-anchor="end" font-size="42" textLength="45.16" lengthAdjust="spacingAndGlyphs">'16</text><text transform="translate(2191.4,1104.30) rotate(-90)" text-anchor="end" font-size="42" textLength="43.87" lengthAdjust="spacingAndGlyphs">'17</text><text transform="translate(2258.5,1104.16) rotate(-90)" text-anchor="end" font-size="42" textLength="46.43" lengthAdjust="spacingAndGlyphs">'18</text><text transform="translate(2325.6,1104.24) rotate(-90)" text-anchor="end" font-size="42" textLength="44.97" lengthAdjust="spacingAndGlyphs">'19</text><text transform="translate(2392.7,1103.66) rotate(-90)" text-anchor="end" font-size="42" textLength="55.92" lengthAdjust="spacingAndGlyphs">'20</text><text transform="translate(2459.8,1107.60) rotate(-90)" text-anchor="end" font-size="42" textLength="39.43" lengthAdjust="spacingAndGlyphs">'21</text><text transform="translate(2526.9,1102.84) rotate(-90)" text-anchor="end" font-size="42" textLength="52.28" lengthAdjust="spacingAndGlyphs">'22</text><text transform="translate(2594.0,1102.84) rotate(-90)" text-anchor="end" font-size="42" textLength="52.28" lengthAdjust="spacingAndGlyphs">'23</text><text transform="translate(2661.0,1104.02) rotate(-90)" text-anchor="end" font-size="42" textLength="55.54" lengthAdjust="spacingAndGlyphs">'24</text>
<ellipse cx="2699" cy="842" rx="72.3" ry="52.5" fill="none" stroke="#FF0000" stroke-width="7.2"/>
</svg>
</body></html>
